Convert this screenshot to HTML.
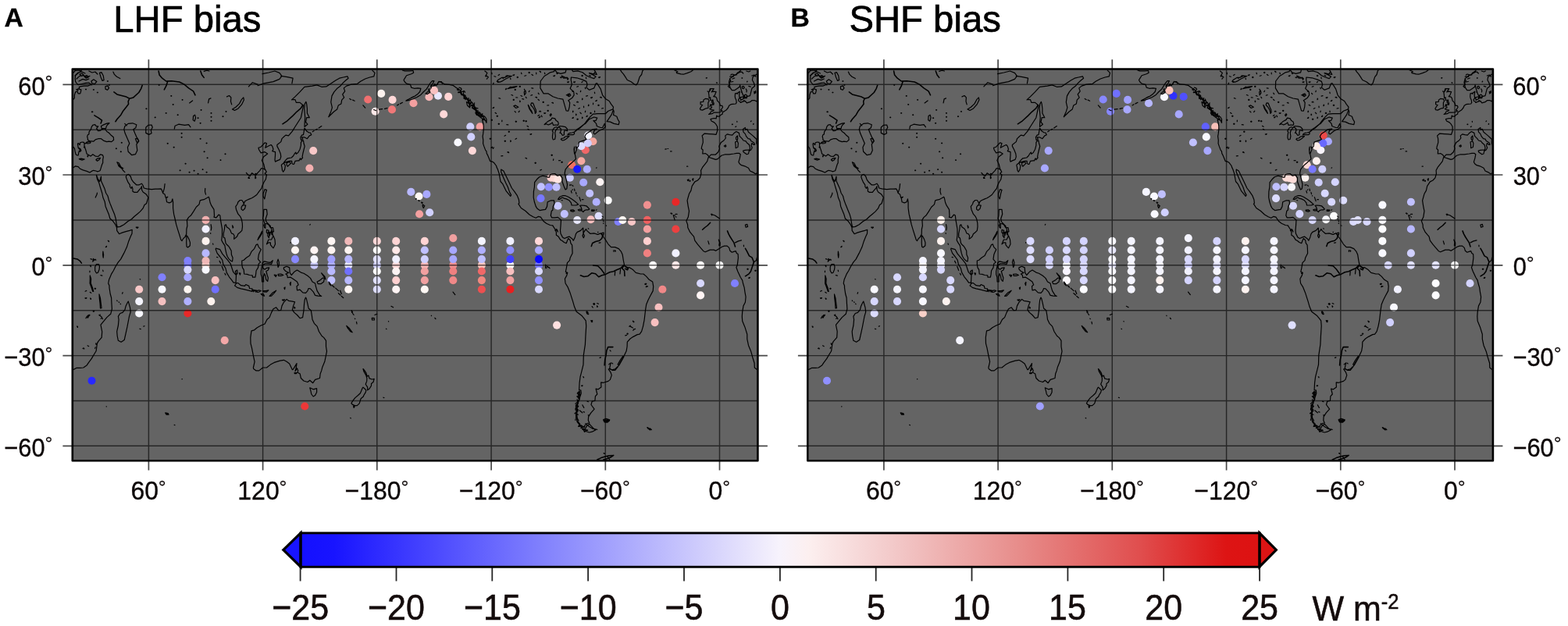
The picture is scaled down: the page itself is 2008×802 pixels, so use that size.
<!DOCTYPE html>
<html lang="en"><head><meta charset="utf-8"><title>LHF bias / SHF bias</title>
<style>
html,body{margin:0;padding:0;background:#fff}
body{width:2008px;height:802px;overflow:hidden}
svg{display:block}
text{font-family:"Liberation Sans",Arial,Helvetica,sans-serif;fill:#000}
.tk{font-size:32px;fill:#0c0606;stroke:#0c0606;stroke-width:.35px}
.dg{font-size:24.6px;fill:#0c0606;stroke:#0c0606;stroke-width:.2px}
.cl{font-size:43px;fill:#140c0c;stroke:#140c0c;stroke-width:.55px}
.ti{font-size:47.3px;stroke:#000;stroke-width:.7px}
.pl{font-size:33.7px;font-weight:bold;stroke:#000;stroke-width:.3px}
</style></head><body>
<svg width="2008" height="802" viewBox="0 0 2008 802">
<defs>
<clipPath id="mc"><rect x="92.8" y="88.5" width="877.6" height="501.7"/></clipPath>
<linearGradient id="cb" x1="0" x2="1" y1="0" y2="0">
<stop offset="0" stop-color="#1410ff"/><stop offset="0.035" stop-color="#1814ff"/><stop offset="0.25" stop-color="#8080fd"/><stop offset="0.5" stop-color="#f7f3fc"/><stop offset="0.53" stop-color="#fcefef"/><stop offset="0.625" stop-color="#f2c6c6"/><stop offset="0.75" stop-color="#e78c8a"/><stop offset="0.875" stop-color="#e04e4e"/><stop offset="0.965" stop-color="#dd1414"/><stop offset="1" stop-color="#dd1212"/>
</linearGradient>
<g id="coast" fill="none" stroke="#000" stroke-linejoin="round" stroke-linecap="round"><path d="M116 331.6L117.8 332.3M120.9 332.7L122 332.2L122.9 333.1ZM115.5 340.2L116.4 340.6L116.3 341.6ZM115 347.1L114.9 348.7M131.7 346.1L132.1 347.7M128.9 352.6L130.9 353.1M110.8 372.4L109.1 373.2M115.2 374.3L116.7 375.3M110.9 381.7L110 382.5L109 381.9ZM115.6 382L116.5 382.6L116.3 383.5ZM121.2 369.8L121.9 369.2L122.6 369.8L121.9 370.4ZM119.2 398.8L119.9 398.2L120.6 398.8L119.9 399.4ZM113 403.5L114.9 404M130.7 407.3L129.1 408.2M128.2 403L127.7 404.5M98.6 418L99.5 418.4L99.4 419.4ZM106 446.5L107.1 445.9L107.9 446.8ZM112.1 442.8L113.7 443.7M122.7 439.9L123.5 440.5L123.1 441.4ZM122.2 444.9L121.7 446.4M138.3 308.3L139.3 308.6L139.5 309.6ZM136.5 315.3L136.3 316.4L135.3 316.6ZM157.1 374.6L156.6 376.2M110 407.7L112.3 404.7L114.9 403.3M126.9 403.7L129.9 405.7L131.5 408.7M905.3 99.6L904.9 100.2L904.2 99.9ZM917.5 105.8L918.2 105.9L918.3 106.5ZM937.4 159.3L937.9 159L938.3 159.3L937.9 159.7ZM942.8 162L941.9 162.6M943.8 155.3L943.9 156.3M962.1 154.9L961.5 155.7M964.9 158.3L965.1 158.9L964.7 159.3ZM949.9 100L950.3 99.6L950.7 100L950.3 100.3ZM957 104L957.1 104.6L956.6 104.9ZM965.7 117.4L966.1 117.9L965.9 118.4ZM949.4 117.9L949.8 117.6L950.2 117.9L949.8 118.3ZM944.6 119.5L944.6 120.1L944 120.3ZM949.2 127.5L948.5 128.3M953.4 128.9L952.8 129.3L952.2 128.9ZM950.3 111.1L952 110.4L953.3 111.9L952.3 113.7L950.6 113.1ZM955.3 113.9L956.3 115.9L956 117.9M958.8 110.4L961.3 111.1M953.3 121.9L955.3 121.1L956.8 122.9L955.3 124.9L953.6 124.1ZM909.9 114.9L907.9 117.9L906.1 116.9M912.9 127.9L911.4 130.4L912.9 132.9M909.9 133.9L908.9 136.9M935.9 96L937.4 95L939.9 95.5L938.9 97M937.9 101L940.8 100M935.9 105L938.9 104.5M945.8 93L949.8 92L951.8 94M955.8 91L958.8 92L960.8 91M962.8 97L965.8 96L967.8 98M621.6 97.4L622.3 96.8L623 97.4L622.3 98ZM624.4 99.9L623.4 101.2M629.7 93.2L630 94.8M632.9 97.7L634.8 98.3M639.6 95.4L638.1 96.5M643.1 99.4L644.5 100.5M649.7 96.7L647.9 97.3M653.6 100.2L653.9 101.7M658.7 95.7L658 96.6L656.8 96.3ZM662.1 99L662.8 98.4L663.5 99L662.8 99.6ZM667.5 93.2L668 94.7M673.7 96.7L671.8 97.3M677 93L677.7 92.4L678.4 93L677.7 93.6ZM681 95.4L682.5 96.5M686.7 93.2L686.8 94.8M691 91.4L692.1 91.5L692.4 92.6ZM697.4 93.2L697.9 94.7M632.1 106.2L631.6 107.7M637.1 105L637.8 104.4L638.5 105L637.8 105.5ZM648.2 113.2L648.3 114.2L647.4 114.7ZM652.8 111.8L653.9 111.2L654.8 112.1ZM659.1 114.9L659.8 114.3L660.5 114.9L659.8 115.5ZM665.1 110.9L665.8 110.3L666.5 110.9L665.8 111.5ZM671.4 114.2L672.1 115.7M678.1 116.2L677.3 117.6M680.7 112.8L682.7 113.1M654.9 121.5L656.7 122.3M660.8 124.8L662.8 125M666.9 122.5L668.6 123.3M673.3 124.2L674.2 125.6M681.6 121.6L679.8 122.2M685.8 124.5L687 124.3L687.6 125.3ZM689.2 119.2L690.2 120.6M638.9 125.6L640.7 126.2M657.1 127.9L657.8 127.3L658.5 127.9L657.8 128.5ZM665.7 129.1L666.3 129.9L665.8 130.7ZM668.8 126.6L670.7 127.1M689 127.3L690.4 128.5M695 130.9L695.7 130.3L696.4 130.9L695.7 131.5ZM702.7 134.8L700.7 135M706.8 131.5L707.9 131.3L708.5 132.2ZM690.7 142.8L691.7 142.2L692.7 142.9ZM698.7 144.8L697.7 145.5L696.7 144.9ZM701 141.9L701.7 141.3L702.4 141.9L701.7 142.5ZM693.3 148.1L694.1 149.6M690.5 147.3L688.9 148.4M632.6 137.4L632.2 138.4L631.1 138.4ZM634.1 144.3L635.6 145.4M636.1 148.8L636.8 148.2L637.5 148.8L636.8 149.4ZM629.2 153.8L629.9 153.2L630.5 153.8L629.9 154.4ZM638.1 158.8L638.8 158.2L639.5 158.8L638.8 159.4ZM642.9 154L642.8 155.6M648.8 159.7L650.8 159.9M659.1 142.6L660.4 143.9M665.3 142.2L664.2 143.5M660.1 155.8L660.8 155.2L661.5 155.8L660.8 156.4ZM670 154.8L670.7 154.2L671.4 154.8L670.7 155.4ZM673 155.2L673.7 154.6L674.4 155.2L673.7 155.8ZM675 161.3L676.5 162.3M675.9 165.3L677.5 166.3M680.7 171.5L679.9 172.4L678.8 172ZM627.2 177.8L627.9 177.2L628.6 177.8L627.9 178.4ZM630.7 188.3L630.2 189.3L629 189.2ZM632.3 189L631.4 190.4M646.1 180.8L646.8 180.2L647.5 180.8L646.8 181.4ZM653.7 180L654.3 180.7L653.9 181.6ZM661.6 177.3L660 178.3M647.6 173.3L646 174.2M651.1 168.8L651.8 168.2L652.5 168.8L651.8 169.4ZM643.8 199.6L641.8 199.8M649.9 194.9L651.1 194.7L651.7 195.7ZM672.9 202.3L674.6 203.1M685 208.7L685.7 208.1L686.4 208.7L685.7 209.3ZM693.5 217.3L691.8 218.1M706 198.7L706.7 198.1L707.4 198.7L706.7 199.3ZM708.8 203.9L708.5 205.5M715.6 205.7L717.6 205.7M718.9 207.7L719.6 207.1L720.3 207.7L719.6 208.3ZM736.6 104.8L735.7 105.6L734.6 105.1ZM740.5 110.6L738.7 111.2M732.9 116.9L733.6 116.3L734.3 116.9L733.6 117.5ZM738 119.3L739.2 120.5M743.8 116.2L743.3 117.7M749.3 112.2L749.8 113.7M756.5 114.7L754.6 115.1M761.4 118.1L761.7 119.7M758.5 124.7L757.7 125.6L756.6 125.1ZM752.5 122.7L750.6 123.1M745.7 126.1L746.1 127L745.5 127.7ZM738.6 130.8L739.6 130.2L740.6 130.9ZM734.7 134.4L736.4 135.3M742.4 138.4L740.8 139.3M747.5 136.1L747.6 137.7M753.7 134.1L754.1 135L753.4 135.7ZM759.6 132.1L759.5 133.7M764.3 128.4L763.9 129.4L762.7 129.4ZM749.7 142.1L749.4 143.6M742.9 144.2L744.2 145.5M737.6 146L738.1 146.9L737.6 147.6ZM734.3 150.3L734 151.3L732.9 151.4ZM738.9 152.8L739.6 152.2L740.3 152.8L739.6 153.4ZM745.6 150L746.1 150.8L745.5 151.6ZM752.1 148.2L752 149.2L751 149.5ZM733.7 142.1L734.1 142.9L733.5 143.6ZM728.6 104.8L727.7 105.6L726.6 105.1ZM710.6 96.7L709.9 97.6L708.7 97.3ZM712.9 94L713.6 93.4L714.3 94L713.6 94.6ZM719.6 98.8L718.7 99.7L717.6 99.1ZM744.9 97L745.6 96.4L746.3 97L745.6 97.6ZM750.4 99.2L750.7 100.7M754.8 96.4L756.3 97.5M762 92.3L761 93.7M768.5 98.7L767.7 99.6L766.6 99.2ZM746.2 104.3L744.9 105.6M768.6 124.6L769.7 124.3L770.4 125.2ZM765.8 134.9L766.5 134.3L767.2 134.9L766.5 135.5ZM772.5 138.7L770.5 139M761.5 142.1L761.6 143.7M755.8 144.9L756.5 144.3L757.2 144.9L756.5 145.4ZM727.2 120.5L729.6 120.1L730.8 122.1L728.8 123.7L726.8 122.5ZM657.8 135.9L660.2 134.9L663.8 137.3L660.8 138.5ZM585.2 114.8L586.7 115.2L588.8 115.1M586.9 118.7L588.9 118.5M593.5 116.7L593.6 118.5L593.5 120.5M594.4 121.7L594.6 123.2L596.2 123.9M597.5 124.7L596 127.7M599.5 126.1L599.9 127.7L600.9 128.7L600.5 131.1L601.8 132.2L605 131.7M602.3 135.9L607.6 134L606.8 136.6L607.2 138.4L607.1 140.2L609.2 140.7L610.5 141.5L612.2 141.9L612 143.6M613.5 143.6L614.9 144.4L615.3 146.3M617 146.8L616 150.5M588 112.1L590 112.7L591 114.2L589 118.4L594.6 116.5L595.6 118.2M594.8 121.4L596.2 122.7L594.7 126.1M597 126.7L600.4 125.8M601.9 127L602.7 129.3M600.9 132.9L603 133.4M607.7 131.9L605.4 135.7L607.5 136L606.9 138.5L610.2 138.3L612 138.9M610.1 141.8L610.3 144.2M612.2 145.1L612.3 147.5L614.8 147L617.9 145.8L617.1 149.1L619.9 148.4M741.9 501.8L740.1 502.8L739.2 504L743.4 506M741.5 507L738.8 507.9L741.9 509.8L741.6 511.1M739 511.8L739.9 513.4L740 514.8L738.7 515.8L736.9 517.2M739.7 518.9L738.3 520.3M737.5 521.8L737.4 523.4L736.9 525L740.3 526.6M737.8 528.1L736 529.6L740.5 531.2M738.9 532.7L739 534L737.4 535.6M737 537L736.9 538.3M739.4 539.2L739.4 540.8L741 541.4M741.5 542.7L742.3 543.8L740.7 546.4L743.8 546.1M743.9 548.4L747.5 546.7M747.7 548.9L747.8 551.9L748.6 553.4L751.2 551.1L752.6 551.3M934 112.1L932.4 110.6L933.8 109L934.9 107.5L933.4 106L935.1 105L935.7 103.3L934.5 100.9M934.8 98.2L936.8 98.1L939.1 98.5M939.7 96.6L941.7 96.5M943.2 96.1L943.6 94.1L944.7 93L946 92.2L947.3 91.3M549.1 116.3L548.8 114.2L551.2 114M552.2 112.8L551.9 110M553.7 110L555.5 110.1L556.3 107.6L559 109.6M560.4 108.4L561.1 105.5L563.6 104.6L565.3 104.6L566.4 107.3M620.9 91L623.9 93.4L622.3 96.6L625.5 99M787.7 347.8L787.3 352.8M794.6 344.8L794 350.8M698.7 339.1L699.1 340.6M700.6 341.1L701.6 341.5L701.6 342.5ZM702.9 342.4L704 343.7M759.7 389.3L760.8 388.6L761.7 389.4ZM764.5 391.9L765.3 392.6L764.9 393.5ZM758.2 392.6L759.2 394M751.8 398.9L752.3 399.7L751.7 400.5ZM753.9 402.1L751.9 402.1M758.7 410.6L757.8 411.4L756.7 410.7ZM810.5 411.1L811.9 412.3M807.4 417.1L805.8 418.2M808.7 419.3L810.5 420M813.6 421.4L811.6 421.9M802.9 427.6L803.6 427L804.3 427.6L803.6 428.2ZM802.6 429.4L800.7 429.8M827.1 363.1L827 364.2L826 364.4ZM827.6 366.6L829.5 366.9M787.4 320.7L788.2 321.3L787.9 322.3ZM769.1 310.8L767.1 311.1M726.6 349.4L726.1 350.4L725 350.3ZM712.7 294.6L710.9 295.3M779.7 466.9L782.1 464.9L780.7 471.9L783.7 473.9L787.7 472.9L790.6 469.9M791.2 466.9L794 461.9L797.6 456.5L798.8 457.3L795.6 462.9L792.8 467.9ZM745.8 518.8L747.8 522.4M742.2 525.8L745.8 528.8M749.8 542.7L753.7 545.9L758.7 549.1L764.7 550.3M772.7 537.5L776.1 536.3L780.7 537.9L777.7 540.3L774.1 539.9ZM777.7 584.6L780.7 588.6M769.4 457.9L768 458.4M746.8 482.7L747.5 483L747.5 483.8ZM746.1 493.9L745.5 494.6L744.6 494.2ZM752 514.1L753.5 514.7M753.2 531.9L754 531.9L754.3 532.8ZM747.1 527.5L748.5 528.1M783.4 465.1L784.7 465.9M781.2 448.8L782.1 449.9M773.2 580.5L774 580.7L774.2 581.5ZM910.6 274.4L915.6 276L921.5 280M941.5 310.9L945.5 308.9L949.5 307.9M906.8 308.9L908 312.9M965.4 335.8L968.4 333.8L969.4 329.9M858.9 273.2L860 273L860.5 274ZM862.7 275.9L864.7 276M865.1 274.4L867.1 274.4M911.7 274.2L912.1 275.1L911.4 275.8ZM952.4 314.1L952.5 315.7M956.8 344.8L957.5 344.2L958.2 344.8L957.5 345.4ZM966.7 346.8L967.4 346.2L968.1 346.8L967.4 347.4ZM960.3 355.4L959.7 356.4L958.6 356.2ZM785.9 320.7L785.9 322.3M827.8 363.7L826.8 364.5L825.8 363.8ZM829 367L827.3 367.8M761.4 389L761.5 390L760.5 390.4ZM810.4 411.3L811.3 412.8M806.9 418.3L808.7 418.9M812.1 422L810.7 423.2M764.7 388.5L766.4 389.3M753.2 400.3L751.5 401.1M757.3 412L758 411.4L758.7 412L758 412.6ZM340.3 217.9L337.8 216.3L334.7 215.5L332.7 218.6L329.8 221.7L327.4 224.8L324.9 223.3L322.7 221.7L320 225.6L317.6 224L315.4 221.3M326.9 225.6L327.8 227.9L326.9 228.7ZM318.6 226.7L319.6 228.3L318.1 228.3ZM297.6 288.9L298.8 291.2L298.1 292ZM159.9 220.6L157.5 218.3L155.1 214.4L152.4 211.3M208.9 246.4L210.4 241.4L211.1 235.6M263.5 249.1L262.5 245.3L262.8 241.4M851.8 191.2L853.3 190.9M855 190.5L855.7 190.5M858.6 193.9L860.1 193.9M862.3 275.7L864.2 281.9M860.1 274.2L860.8 273.8M865.4 277.7L865.9 278.1M183.8 418.1L185 417.7M178.9 421.2L180.2 421.6M149.7 384.9L150.2 385.7M152.1 386.9L152.6 387.3M154.1 389.2L154.6 389.6M211.8 528.9L215.3 529.6L216 531.2L213.1 531.2L212.3 530ZM212.8 529.6L215.5 530.4M223.1 544.3L224 544.7M136.1 520.8L136.5 520.8M233 485.7L233.3 485.7M270.1 287.7L270.8 291.6L270.3 295M269.6 298.5L269.8 299.3M272.5 312L273 313.2M278.9 329.8L277.6 329.4M281.1 334.4L282.5 337.1M284.2 341.3L285.2 343.7L286.2 346.4M287.9 350.2L288.9 352.1M301.3 347.5L303.7 346L304 350.6L302.5 351.4ZM306.4 349.8L307.9 350.2L307.4 352.1ZM396.8 288.1L397.3 287.3M372 311.2L372.2 310.5M556.9 407.3L557.9 408.5M552.3 404.2L552.5 404.6M580.1 374.1L582.8 377.6M494.5 421.2L495 421.6M497.5 411.6L497.7 412M698.5 341L699.7 343.3L699 343.7ZM701 341.7L701.7 342.5M703.1 342.9L703.6 343.3M832.5 548.9L834.3 550.5M763.6 215.2L764.1 214.8M731.4 244.5L732.1 247.2M732.9 243.3L733.4 242.9M729.5 237.2L731.7 236.8M733.1 237.5L733.9 238.3M735.6 242.2L736 244.5M737.5 246.4L738 248.7M739 250.7L739.2 251M741.9 252.6L743.6 257.6M745.3 255.7L747 255.7M771.1 276.9L772.4 278.1M771.9 280.4L772.1 280.8M772.4 282.7L773.1 283.8M772.8 285.8L772.8 286.5M776.3 288.9L776.5 289.3M763.3 269.2L764.1 268.8M719.2 256.5L720.2 256.8M753.3 292.7L753.8 293.1M765.5 297.4L766 297.4M179.2 357.6L179.7 357.9M490.9 509.2L491.9 509.6M448.7 535.4L449.2 535.8M116.9 104L119.9 101.8L123.9 104.4L121.3 107.7L117.9 106.9ZM127.5 93.4L129.9 92.6L132.3 97L133.1 102.6L131.1 103.4L129.1 99ZM96 97L100 93L105 92L109 94M98 101L102 97.4L107 96.6L111.9 99L114.9 97.4M101 104L106 101.4L110 102.6L113.9 101M102 95L105 94L107 96L104.4 97.4ZM108 98L110.9 96.6L113.5 98.6L110.3 100.2ZM95.6 91L99 90L104 90.6M113.9 91L117.9 93L121.9 92L124.9 95M134.9 110.9L137.9 109.9L139.5 112.9L137.5 115.3L135.1 114.1ZM109.5 114.5L110 114.1L110.4 114.5L110 114.9ZM119.4 114.9L119.9 114.5L120.4 114.9L119.9 115.3ZM124.4 118.5L124.9 118.1L125.4 118.5L124.9 118.9ZM117.4 143.3L117.9 142.9L118.4 143.3L117.9 143.7ZM186.9 139.3L187.4 138.9L187.9 139.3L187.4 139.7ZM203.2 108.9L203.7 108.5L204.2 108.9L203.7 109.3ZM137.4 104L137.9 103.6L138.4 104L137.9 104.4ZM139.4 108.9L139.9 108.5L140.4 108.9L139.9 109.3ZM144.9 92L146.5 95.4L149.5 98.2L153.8 100.6M261.2 91.4L264.6 90.2L268 91M318.4 110.9L323.4 105.7L330 108.1M159.8 158.4L162.2 160.8M159.8 161.8L164.2 158.4L169.8 157.8L174.8 159.8L173.8 163.8L170.8 165.8L172.8 170.8L176.2 178.4L177.8 180.8L174.8 184.8L175.8 192.7L173.4 197.7L168.8 198.7L164.2 194.3L163.4 188.7L165.8 183.8L162.8 176.8L160.2 170.8L158.8 165.8ZM173.4 177.8L176.2 177.2L177.8 180.4L175.4 182.8ZM186.8 163.2L189.8 160.4L194.1 160L195.3 163.2L193.3 166.8L194.1 170.8L190.7 172.4L186.8 170.4ZM223.3 165.2L224.1 161.2L228.7 159.2L236.6 160.4L241.6 159.6L244 162.8M297.5 139.9L301.9 137.3L306.5 132.9L309.5 127.3L311.8 124.9L312.4 127.9L309.5 133.9L305.1 138.9L300.5 141.5ZM290.5 123.9L293.5 122.5L295.9 124.9L295.5 129.9L296.7 133.9M266.6 131.9L267.6 126.9L270 125.9M242.6 131.9L246.6 128.9M247.6 148.4L249.6 147.2L250.6 150.8L249.2 155.2L247.2 153.8ZM149.9 207.7L152.2 208.7L154.8 213.7L157.8 215.7L155.8 215.7L152.2 213.1ZM117.8 143.3L118.3 142.9L118.8 143.3L118.3 143.7ZM148.4 190.3L148.9 189.9L149.4 190.3L148.9 190.7ZM154.3 194.3L154.8 193.9L155.3 194.3L154.8 194.7ZM155.3 182.8L155.8 182.4L156.3 182.8L155.8 183.2ZM212.2 144.9L212.7 144.5L213.2 144.9L212.7 145.2ZM227.2 147.2L227.7 146.8L228.2 147.2L227.7 147.6ZM233.1 127.9L233.6 127.5L234.1 127.9L233.6 128.3ZM232.1 170.8L232.6 170.4L233.1 170.8L232.6 171.2ZM232.1 175.8L232.6 175.4L233.1 175.8L232.6 176.2ZM256.1 177.8L256.6 177.4L257.1 177.8L256.6 178.2ZM264.1 183.4L264.6 183L265.1 183.4L264.6 183.8ZM288 197.3L288.5 196.9L289 197.3L288.5 197.7ZM282 205.1L282.5 204.7L283 205.1L282.5 205.5ZM259.1 217.1L259.6 216.7L260.1 217.1L259.6 217.5ZM264.1 220.7L264.6 220.3L265.1 220.7L264.6 221.1ZM242.1 220.7L242.6 220.3L243.1 220.7L242.6 221.1ZM230.1 218.3L230.6 217.9L231.1 218.3L230.6 218.7ZM237.1 209.7L237.6 209.3L238.1 209.7L237.6 210.1ZM214.2 183.8L214.7 183.4L215.2 183.8L214.7 184.2ZM222.2 188.7L222.7 188.3L223.2 188.7L222.7 189.1ZM270 144.9L270.5 144.5L271 144.9L270.5 145.2ZM270 149.8L270.5 149.4L271 149.8L270.5 150.2ZM270 154.8L270.5 154.4L271 154.8L270.5 155.2ZM289 142.9L289.5 142.5L290 142.9L289.5 143.3ZM285 149.2L285.5 148.8L286 149.2L285.5 149.6ZM257.1 140.9L257.6 140.5L258.1 140.9L257.6 141.3ZM218.8 122.9L219.3 122.5L219.8 122.9L219.3 123.3ZM221.2 133.9L221.7 133.5L222.2 133.9L221.7 134.3ZM198.2 150.4L198.7 150L199.2 150.4L198.7 150.8ZM253.1 151.2L253.6 150.8L254.1 151.2L253.6 151.6ZM256.1 157.8L256.6 157.4L257.1 157.8L256.6 158.2ZM261.1 194.3L261.6 193.9L262.1 194.3L261.6 194.7ZM265.1 202.3L265.6 201.9L266.1 202.3L265.6 202.7ZM317.9 227.8L318.4 227.4L318.9 227.8L318.4 228.2ZM326.9 222.7L327.4 222.3L327.9 222.7L327.4 223.1ZM253.1 222.7L253.6 222.3L254.1 222.7L253.6 223.1ZM248.1 218.7L248.6 218.3L249.1 218.7L248.6 219.1ZM330 109.7L338 106.9L350 104.6L357.9 101.4L360.9 97.4L357.9 93.4L351.9 91M336 94.6L344 93L351.9 91M359.9 97.4L367.9 98.6L375.1 100.2L373.9 106.9M373.5 127.9L377.9 123.9L383.9 117.9L389.9 111.3L399.8 110.1L405.8 108.9L411.8 111.3L417.8 110.9L423.8 106.9L429.8 103L434.7 100.2L439.7 99L444.9 97.8L446.1 100.2L442.7 103L439.3 106.1L436.1 109.9L432.1 112.9L427.8 117.9L425 122.9L423.8 130.9L425.4 137.9L423.8 142.9L420.8 149.8L427.4 143.3L431.7 140.1L433.3 134.9L436.9 132.9L437.7 128.1L440.7 124.9L438.7 120.9L441.7 116.9L440.3 112.9L443.7 110.1L449.7 108.1L457.7 107.3L461.7 104.2L467.7 101L473.6 99L478.8 97.8L480 93.4L476.8 90.2M400.2 168.8L402.2 167.6M404.2 166.4L406.2 165.2M408.2 164L411.8 161.6M447.7 126.5L449.7 127.7M451.7 128.1L454.1 129.3M464.9 134.9L467.7 138.1M478.6 140.5L481.6 141.7M485.6 140.1L489.6 139.7M492.6 139.3L496 138.5M508.6 134.9L510.5 133.7M512.5 132.9L515.5 131.3M520.5 128.5L524.5 126.5M526.5 125.3L529.5 123.7M512.1 86.7L515.7 90.1L518.4 90.9L524.3 90.9L529.1 90.5L529.6 93.2L526.7 94.8L520.6 96.7L518.2 100.6L517 102.5L518.2 104.8L520.6 107.1L525.5 108.3L526.7 112.1L530.4 113.3L535.2 112.9L538.9 113.3L537.7 117.5L535.2 120.2L530.4 123.7L525.5 126L519.9 129.1L524.3 128.3L529.1 126.8L534 124.5L538.9 121.4L542.5 117.5L546.2 114.1L548.6 110.2L551.1 106.3L553.5 103.6L555.9 103.6L554.7 106.3L551.6 110.2L555.9 109.8L559.6 108.3L562 104.4L565.7 105.6L569.4 107.9L575.4 108.3L580.3 109.4L585.2 112.9L588.8 115.2L591.3 119.9L594.9 123.7L598.6 127.6L602.3 129.5L604 130.7L607.1 135.3L609.6 139.1L610.8 143L615.7 146.9L619.3 148.8L621.5 150L623 152.7L623 157.3L621.7 154.2L617.6 153L618.8 158.4L619.3 161.5L619.3 166.2L618.6 171.9L618.1 174.6L618.8 179.7L618.6 183.9L619.8 187.4L621.7 192.4L623 193.9L623.2 196.3L624.4 198.6L625.9 202L627.6 206.3L630.3 207.1L632.7 208.6L635.6 212.5L636.1 214.4L637.3 216.7L639.1 222.1L641 232.5L643.7 235.6L648.3 244.9L653.7 251.4L654.6 249.9L652.7 246.4L650.3 239.5L647.8 234.5L644.9 227.9L641.7 220.2L641.7 217.1L644.9 219L647.3 224L651.2 232.1L655.4 241L658.8 245.3L662.2 250.3L664.4 255.7L664.9 260.3L663.9 261.1L667.3 266.5L672.9 270.3L678 275L682.7 277.7L686.3 279.2L689.5 277.3L692.4 278.1L696.1 283.5L699.7 286.2L704.6 288.5L707.8 288.9L708.7 290.4L710.7 293.5L712.4 297.4L712.4 301.2L715.1 303.1L717.8 307.4L719.7 308.2L722.4 310.5L725.3 311.6L726.5 308.2L727.8 305.5L730.2 307.8L730.9 311.6L732.6 313.9L732.9 318.6L733.1 324.4L730.2 330.2L729.5 333.6L726.5 336.7L725.3 343.7L724.3 348.3L726.8 349.4L725.8 352.9L723.4 357.2L724.1 363L727 367.6L730 374.9L733.6 386.1L735.6 393.1L738.2 399.2L744.8 404.2L747.7 407.7L750.2 410.8L750.7 417.7L749.9 430.9L749.4 441.3L747.3 455.2L747 467.1L744.6 476.8L743.1 482.6L742.1 490.3L741.6 499.9L743.8 499.9L744.3 503.8L742.4 509.6L739.9 517.3L737.3 520L739.9 525L737.5 532.7L739.2 540.5L742.4 544.3L748.5 547.4L748.7 545.1L752.1 542.4L754.8 542L753.3 538.5L753.6 533.9L756.8 528.9L761.1 524.2L757 518.5L758.2 514.2L761.9 513.4L762.4 507.7L764.8 505L763.1 498L766 498.8L769.9 496.1L769.7 489.9L772.8 490.3L778.9 488.4L781.4 486.4L783.3 480.6L781.9 476.8L779.2 472.9L780.4 472.5L784.5 474.5L787.7 474.5L791.1 470.2L794.5 464.1L798.4 457.5L802.1 449.8L803.1 444L803.3 438.2L807 434L810.6 431.6L816.2 428.6L819.1 428.2L821.6 424.7L823.5 418.1L825.2 409.3L826.5 397.7L827.7 390L830.1 384.2L832.5 379.5L836.2 372.6L836.7 366.8L835.7 361L831.3 358.3L827.7 354.1L824 351L820.4 351L814.3 349.4L810.6 345.6L805.7 342.5L803.3 343.7L799.6 339.8L798.4 334L797.2 326.3L795.5 322.4L792.3 318.6L787.5 316.6L782.6 316.6L778.9 312.8L775.3 307L771.6 302L769.2 298.9L765.5 300.4L760.7 298.9L755.8 299.3L751.4 295.4L750.4 293.5L747.7 297.4L747 299.3L746.8 292L743.6 295.4L739.2 297.4L737.5 299.7L736.3 303.9L734.3 308.2L733.1 306.2L729 303.1L726.5 303.9L722.9 305.5L720.4 303.9L718 299.3L717.5 295.4L718 289.6L718.5 281.9L714.4 278.4L710.7 278.8L706.6 278.8L705.3 276.1L706.3 270.3L707.8 269.2L708.3 264.6L710 260.7L709.5 256.8L705.8 256.8L701.2 258.8L700.5 264.6L698.5 268.4L694.9 268.8L691.2 269.6L688 267.3L686.3 264.6L684.4 258.8L683.2 253L683.4 245.3L684.4 239.5L684.6 233.7L687.5 229.8L690.7 226.7L694.9 225.2L698.5 226L701.7 227.1L703.6 227.1L704.6 223.3L707 222.9L710.7 222.5L713.4 225.2L715.6 224.8L717.5 224L720 227.9L720 232.5L722.2 238.7L724.1 242.9L725.8 241.8L726.5 236.4L725.1 229.8L723.1 222.1L724.1 217.1L726.5 214L729 211.3L731.7 209L735.1 205.9L737.5 203.6L736.3 197.4L735.3 193.6L735.6 188.2L735.1 191.2L735.6 197L736.5 196.6L738.5 191.6L737.5 187.8L738.7 189.7L740.7 187.4L741.2 183.5L741.6 182L744.8 180.8L748.5 179.7L750.9 178.5L749 175.4L749.2 173.9L750.9 171.2L754.6 168.9L758.2 166.2L761.9 165.4L764.3 165L760.7 167.7L760.2 170.8L761.9 171.9L766.8 167.7L772.8 165L775.3 162.3L774.3 158.4L771.6 163.5L769.2 163.5L766 162.3L764.3 161.5L763.6 158.4L759.9 154.6L763.1 154.6L764.8 151.1L760.7 150L754.6 152.7L749.7 158.4L748 159.2L742.4 164.2L739.2 166.2L735.6 169.2M735.6 169.2L739.2 165.4L742.4 163.5L748.5 158.8L752.1 153.8L755.8 149.6L759.4 146.1L765.5 145.7L775.3 145.7L778.9 142.2L785 139.9L785.5 137.2L782.6 133.4L780.2 129.5L775.3 126.4L771.6 121.8L769.2 114.1L764.6 106.7L763.1 107.1L760.7 112.9L754.6 115.2L750.9 112.1L752.1 108.3L750.9 104.4L746 102.1L738.7 99.8L731.4 99L731.2 102.5L732.4 108.3L730.2 113.3L734.8 117.9L735.1 121.8L732.6 125.6L727.8 128.7L729.7 131.4L729.2 137.2L727.8 142.2L725.1 141.8L720.9 127.2L714.4 126L708 123.7L702.2 119.9L696.1 119.9L691.9 112.9L692.2 104L697.1 97.5L700.5 95.5L704.6 92.8L709.5 91.7L710.7 87.8M785.5 140.7L783.1 146.9L780.6 150.7L777.2 155.7L781.4 156.1L786.2 158.4L789.9 159.2L792.3 159.6L793.1 156.1L791.1 152.7L789.9 149.2L785.5 147.3L786.2 143ZM608.8 144.2L614.4 145.7L619.3 150.7L620.8 153L616.9 151.5L613.2 148.8L609.6 146.1ZM597.4 130.7L600.5 131.4L601.8 138L598.6 135.3ZM545 119.9L549.9 116L550.6 118.3L547.4 120.6ZM754.8 543.2L750.9 546.2L749.7 549.3L746 550.1L748.5 552L754.6 554L758.2 553.2L762.6 550.9L759.4 548.2L755.8 544.3ZM772.8 538.5L777.7 537.8L780.6 538.9L777.7 541.2L774.1 540.8ZM741.2 501.5L742.4 502.6L742.1 506.9L740.4 505.7ZM697.1 159.6L699.7 158.8L702.2 160L705.8 158.4L707.3 156.9L708.5 160.4L711.9 160L714.4 160.4L715.3 158.8L714.6 156.1L712.2 154.6L710.7 151.9L707 151.1L705.6 153.4L703.4 154.6L701 156.1L698.5 158.1ZM708.3 178.9L710.5 178.5L711.4 174.6L710.7 170L711.9 166.5L713.1 165.4L714.4 163.5L712.4 162.7L710 163.5L708 166.2L707.3 168.1L708.3 169.2L707.5 173.9L707.5 176.6ZM715.1 162.7L718 164.6L718.5 166.9L717 170.4L718.3 170.4L720.4 173.5L722.4 172.7L722.4 169.2L723.4 166.5L726.5 167.7L726.3 165L724.1 162.7L720.4 161.9L716.8 161.5ZM718.3 178.5L720.4 180L722.9 179.3L725.3 177.7L729 174.6L727 174.3L724.1 175L721.7 177L719.2 177.3ZM727 172.7L730.2 172.7L733.9 172.7L735.6 171.6L735.1 169.2L732.6 170L730.2 170.4L728 171.2ZM685.4 145.3L686.6 143.8L686.3 140.7L685.1 138.4L683.9 135.3L682.7 132.2L680.5 131.8L679.7 134.5L681.9 136.8L684.4 140.7L685.1 143ZM681.9 145.3L680.7 142.2L678.8 139.5L677.3 136.1L676.3 134.5L677.8 139.1L680.2 143ZM636.4 104.4L640 105.2L643.7 103.6L647.3 101.3L653.4 98.2L655.4 97.5L651 97.1L646.1 99.4L642.5 99.4L640 100.9L637.6 102.5ZM620.5 87.8L625.4 89.4L630.3 87.8L625.4 85.9ZM649.8 113.7L653.4 111.8L658.3 111L662 110.6L658.3 112.1L653.4 112.9ZM671.7 121.8L673.4 119.1L672.9 116L671.2 117.9ZM704.9 148.8L706.3 146.9L705.6 145.7L704.1 147.3ZM690 150.7L691.7 149.2L691 150.7ZM709.5 87.8L713.1 92.8L718 94.4L724.1 92.8L725.3 88.2M719.2 97.1L721.7 98.2L725.3 99.8L721.7 100.2ZM725.8 99L727.8 100.6L727 102.1ZM725.3 121.8L728.2 122.9L729 120.2ZM731.4 88.2L733.9 91.7L739.9 90.9L746 92.8L750.9 96.7L755.8 99L760.7 100.6L763.1 98.2L759.4 95.9L754.6 93.6L758.2 94.4L764.3 95.5L761.9 90.9L759.4 87.8M793.6 88.2L796 92.1L798.4 94.8L800.9 98.6L803.3 102.5L808.2 104.8L811.8 107.5L814.5 109L816.7 106.3L817.9 102.5L819.1 98.6L821.6 95.5L822.8 90.9L825.2 87.8M861.8 87.1L866.7 89L863.5 89.8L867.9 91.7L866.2 92.8L866.7 93.6L872 94.8L875.2 95.2L880.1 93.6L884.9 91.7L888.4 89L888.6 87.1M714.6 255.3L716.8 252.2L720.4 250.7L724.1 250.7L727.8 252.2L732.6 255.3L736.3 258L740.7 261.9L737.5 263L732.1 263L731.4 259.9L729 256.8L725.3 254.9L722.2 254.1L720.4 253L718 254.1L716.8 255.3ZM740.2 268.8L742.6 268L745.1 268.4L744.1 265.3L742.6 263.4L744.8 263L748.5 263.4L750.9 263.8L752.9 265.7L754.8 268L753.3 268.8L750.9 268.8L748.5 269.6L746.8 271.5L744.8 269.6L741.6 270ZM730.7 269.2L733.9 268.8L735.8 270.3L733.9 271.1L730.9 270.3ZM757.7 268.8L761.4 269.2L760.7 270.3L757.7 270.3ZM770.6 298.5L773.1 298.1L772.8 300.8L770.6 300.8ZM747 299.3L748.5 302L747.3 304.7L746 302ZM712.2 293.5L714.4 297L713.4 294.3ZM750.9 399.2L753.3 402.7L751.6 401.5ZM276.4 318.2L281.8 319.7L284.7 325.1L288.9 330.2L291.5 333.2L295.2 337.9L297.1 343.7L298.8 348.7L302.5 352.5L302 362.2L299.1 362.2L296.4 358.3L293.5 354.8L290.3 349.4L288.9 343.7L285.9 338.6L284.7 333.2L281.8 329L278.1 324.4L276.2 319.3ZM300.6 366L302.7 362.6L304.9 362.6L308.6 365.7L313.5 366.4L314.7 364.5L318.8 366.4L319.6 369.5L323 369.9L323 373.4L318.3 372.2L312.2 370.7L308.6 369.9L303.7 368.4L301.3 366.4ZM323.2 371.1L326.1 371.8L324.9 373.8ZM326.6 371.8L328.6 372.2L327.6 374.1ZM328.8 372.6L331.7 371.8L334.2 372.6L331.7 374.1L329.3 374.5ZM336.4 372.6L340.3 372.6L343.9 371.8L341.5 374.1L337.8 373.8ZM334.2 376.5L337.1 376.5L338.6 379.2L336.1 378.4ZM345.1 379.5L348.8 375.3L353.7 372.2L351.2 375.3L347.6 379.2ZM309.8 338.6L309.8 334L312.2 333.2L315.4 330.2L319.6 327.5L322 322.4L325.7 318.6L328.1 313.6L329.8 312.8L331.3 316.6L334.2 319.7L332.5 323.2L331.3 326.3L330.5 332.1L333.7 335.9L331.3 337.9L330.5 342.9L328.1 346.7L327.6 351.4L326.9 355.2L323.5 355.2L323.2 352.9L319.6 352.5L316.4 351.4L312.7 351L312.2 345.6L310.5 342.9ZM336.1 336.7L338.6 334.8L342.7 335.9L346.4 336.3L349.3 333.6L347.6 338.3L343.9 337.9L339.1 337.9L336.6 339.8L336.6 343.3L339.1 345.2L341.5 343.3L344.7 342.9L343.4 346L340.8 347.5L342.2 352.5L343.4 356L342.7 360.3L340.8 358.3L339.8 353.3L338.6 350.6L337.4 354.5L337.6 361L335.6 361L335.4 355.2L334.2 351.4L334.2 347.5L335.4 341.7L336.1 339ZM354.9 335.9L356.1 332.1L357.3 335.9L357.3 339.8L356.1 342.5L355.6 339ZM351.2 352.1L354.2 352.5L353.2 354.5ZM356.1 351.4L359.8 351L362.9 352.5L359.8 353.3L356.6 353.3ZM371.2 363L372.4 361.4L372 365.7ZM363.9 368.7L365.1 368L364.6 370.7ZM337.8 268.4L341.5 268.4L342.2 274.2L340.3 280L340.8 283.8L342.7 285.8L346.4 289.6L346.4 291.6L343.9 287.7L341.5 286.5L339.1 286.9L338.1 283.8L336.6 280L337.4 276.1L337.6 272.3ZM341.5 312.8L343.9 307L347.6 307L350 302L352 307L352.5 312.8L351.2 315.5L350 317.8L348.8 316.6L346.4 313.6L346.4 310.9L343.9 310.9ZM347.1 291.6L349.5 291.6L350.5 296.6L348.8 297.4ZM347.3 295.8L348.8 298.1L349.3 301.2L348.1 300.4ZM341.5 294.3L344.2 295.4L342.7 299.3L341.3 297.7ZM343.4 297.7L344.9 299.3L344.4 304.7L342.7 302ZM344.9 297.4L346.4 297.4L345.4 301.6ZM337.6 288.1L339.8 288.1L339.8 292.3L338.6 291.2ZM330 307.4L333 303.1L335.4 298.9L335.6 296.2L333.7 300.1L330.8 305.1ZM339.1 242.6L341.5 243.3L340.3 247.2L338.8 254.9L337.1 251.8L337.1 248ZM309.1 265.3L311 262.6L314.7 263L313.5 267.3L311 269.6L309.1 268ZM361 210.5L363.4 209L365.4 212.5L364.6 217.1L362.7 220.2L361.5 218.3L361 214.4L360.3 211.7ZM367.1 208.6L370.7 207.4L372.4 209.4L370.7 210.9L368.3 213.2L367.1 211.3ZM363.2 208.6L365.9 205.1L368.3 202.8L373.2 202L375.6 199.7L377.6 196.3L378.8 195.1L379.3 197.4L381.7 195.5L384.1 191.2L385.4 186.2L385.4 182.4L386.6 180.8L388.5 180L389 183.5L390.2 187.4L389 192L387.8 197L387.1 200.9L387.6 202L385.4 204.7L384.6 202.8L382.9 205.9L381.2 205.9L378 206.3L377.6 207.4L376.3 210.5L375.1 210.5L373.7 208.6L373.7 206.3L370.7 206.3L367.1 207.4L363.4 208.6ZM385.8 179.7L387.8 178.5L386.6 175.8L389.7 175.8L393.4 177.7L396.3 173.9L398.8 172.7L397.5 170L395.8 170L392.7 168.1L390 164.2L389.3 168.1L388.5 172.7L386.6 173.1L384.9 175.8L385.4 178.5ZM390.2 162.3L393.9 159.2L391.5 156.5L392.7 150.7L396.3 150.7L393.4 144.9L393.4 139.1L392.7 133.4L391.9 130.3L390.2 133.4L389.7 139.1L390.2 144.9L390.7 150.7L390.2 156.5L390 162.3ZM363.4 342.9L367.1 341.3L370.7 342.9L371.2 349.4L373.2 352.5L376.8 348.3L380.5 346L385.4 349.1L389 350.2L393.9 353.3L397.5 356.4L400 361L403.6 363L404.4 366.8L406.1 372.6L409.7 378.4L411.7 379.5L407.3 379.2L403.6 378.4L401.2 373.8L397.5 369.9L395.1 369.5L393.9 372.6L391.5 375.3L387.8 374.9L384.1 371.1L380.5 371.8L380 366.8L382.2 364.9L380.5 361L375.6 357.6L372 355.2L368.3 355.6L367.8 352.5L365.9 351L369.5 349.4L365.9 347.5L363.4 344.8ZM406.1 361L409.7 359.1L413.4 356L415.3 356.4L414.6 361L410.9 363.7L407.3 363.7ZM411.7 349.8L415.8 354.1L417 357.9L415.1 354.8ZM420.9 361L423.1 363.7L424.1 366L421.9 364.1ZM425.6 365.7L428 368M429.7 369.1L433.6 372.6M433.4 375.7L436 378M435.6 372.2L437.3 376.5M437.3 379.5L439.7 381.5M450.2 397.7L451.6 400L450.7 400.4ZM451.6 401.5L453.1 403.5M454.3 408.1L454.8 408.5M456.5 412.3L457 415M443.8 417.4L447.5 420.8L451.2 425.8L448.7 424.7L445.1 420.1ZM476.3 407.3L479.2 407.7L479.4 410L476.5 410ZM479.9 403.5L482.8 402.3M500.9 392.3L503.6 393.8M322 423.9L320.8 432.4L321 440.1L322.5 445.9L324.4 455.6L326.1 463.3L324.4 471L324.7 472.5L328.1 474.9L331.7 474.9L336.6 471L341.5 471L346.4 467.1L351.2 464.4L358.6 462.1L363.4 461.3L367.1 463.3L370.7 466L374.4 473.7L375.6 472.9L380 465.6L379.3 471L378 475.6L380.5 471.8L381.7 474.9L381 477.2L384.1 478.7L385.4 484.5L389 488L393.9 489.5L396.8 487.2L400.7 490.7L403.6 486.4L409.5 484.5L410.2 478.7L411.7 474.9L412.9 470.2L415.8 463.3L417 457.5L418.5 450.2L417.5 444L417.5 436.3L414.6 432.4L412.2 430.5L408.5 424.7L406.1 418.1L402.4 414.3L400 409.3L399.5 405L398.3 397.7L395.1 395L393.9 389.2L392.2 382.2L391.5 381.1L390.2 384.2L389.5 390L389 397.7L387.6 406.6L384.1 407.7L380.5 403.5L376.8 400.4L374.4 396.9L375.6 391.9L377.6 386.9L374.4 386.1L369.5 385.3L367.1 383.4L363.4 387.3L361 391.9L359.8 397.3L356.6 397.7L353.7 393.8L350 395.8L347.6 400.4L345.1 406.6L342 409.3L339.1 415L334.2 417L329.3 419.7L325.7 422.8ZM396.8 496.8L401.2 498.8L405.6 497.6L405.6 502.6L403.6 506.5L401.2 508L398.8 505L398 501.1ZM377.1 477.6L380 477.6L379.3 478.7L377.3 478.7ZM361.5 384.2L364.6 383.8L362.9 385.3ZM376.8 393.1L378 394.6L376.8 395ZM465 472.5L467 474.9L468.9 477.9L470.2 482.2L471.9 481L473.1 484.9L476.7 486L479.2 485.3L478 489.5L475.5 491.4L475.5 494.1L473.1 498L470.7 499.9L470.7 496.1L468.2 492.2L469.7 488.4L469.9 484.5L468.7 480.6L465.8 475.6ZM465 496.1L467 498L468.9 499.9L468.2 502.6L465.8 506.5L465.3 508L462.1 510.7L460.9 514.6L460.2 516.9L457.3 519.6L454.3 519.6L451.2 518.1L449.9 516.5L452.4 512.7L454.8 509.6L458.5 506.5L461.4 503.8L462.9 500.3L464.1 497.2ZM452.6 520.4L454.1 520.8L453.1 522.3ZM541.3 261.9L543.8 263.8L542.3 266.5L541.3 264.2ZM539.6 259.2L541.3 259.5L540.4 260.3ZM536 256.5L537.2 257.2L536.5 257.6ZM532.3 254.5L533.3 254.5L532.8 255.3ZM949.5 88.2L947.1 92.8L943.4 94.8L939.8 96.7L934.9 100.6L933.7 104.4L934.2 108.3L934.9 112.1L937.3 115.6L941 115.6L944.7 112.9L947.3 111L947.6 108.7L948.3 112.1L949.5 116L950.7 119.9L952.7 123.7L953.2 126L956.3 125.6L956.8 123.7L960.5 122.6L961.7 117.9L962.9 113.3L966.6 110.2L965.4 106.3L963.4 102.5L964.1 98.6L966.6 96.7L970 94.4M93.2 94L95.4 91.7L96.6 88.2M105.1 88.2L103.9 90.9L100.2 93.6L96.6 96.7L96.1 100.6L96.6 104.4L97.8 106.3L100.2 108.7L105.1 107.5L110 106.3L113.6 106L117.8 108.7L114.9 109L112.4 110.2L107.5 110.2L103.9 110.6L101.4 111.4L101.4 114.1L103.9 114.8L103.4 117.9L102.7 119.9L100.2 119.9L99 117.2L96.6 117.9L95.4 121.8L95.4 125.6L93.2 128M970 128L969 129.9L966.6 128.7L962.9 128.7L960.5 130.7L956.3 131.8L954.4 129.5L952 129.9L948.3 131.4L947.8 130.3L945.9 129.5L945.6 127.6L947.1 125.6L946.6 121.8L947.3 117.2L944.7 119.1L941.5 119.9L941.2 123.7L941.7 126L942.7 128L943.2 131.4L942.2 133L938.6 133.4L936.1 133.7L933.7 135.3L932.5 138L930 141.1L927.6 142.6L925.4 143.8L925.2 146.1L922 148L921.5 149.2L918.6 149.2L917.8 148L917.1 151.9L914.2 151.5L910 152.7L911 155L914.7 156.9L916.6 158.8L918.6 162.3L918.6 167.7L917.1 172.3L913 171.9L908.1 171.6L902 171.2L899.1 173.9L900.1 177.7L900.3 182.4L898.6 188.2L898.3 190.5L900.1 192L899.8 197L903.2 196.6L905.9 198.2L907.9 200.9L910.5 198.2L916.1 198.2L919.8 194.7L921.5 190.5L920.8 187.4L923.4 182.4L926.9 180L929.3 177L928.8 173.9L931.2 171.9L934.4 172.7L937.8 173.1L939.8 170.8L942.9 168.5L946.4 170.4L947.1 174.3L950.3 177.7L952 180L955.1 180.8L956.3 182.8L959.5 185.5L960.5 189.3L959.8 193.2L961.7 192L963.2 189.3L962 186.6L962.9 183.5L965.4 185.5L966.6 185.1L965.4 182.8L961.7 180.4L960.5 178.1L958.1 177.7L955.6 174.6L954.4 171.6L952 169.2L951.5 165.4L954.4 163.5L954.6 166.2L956.8 165.4L958.5 169.2L961.7 171.9L964.1 173.9L966.6 176.2L969 178.5L968.8 183.5L970.1 186.6M93 187L95.4 190.1L95.8 192L96.1 193.9L97.1 197.8L98.8 199L100.2 199L100.7 195.9L101.4 193.2L102.7 194.3L102.7 192L100.2 189.3L100 187.8L99.5 184.3L100.2 183.5L102.2 185.5L102.7 182.8L105.1 182L107.5 182.4L108 184.3L109.2 183.9L111.2 182L112.4 181.6L114.9 181.2L114.9 180.8L112.4 179.3L112.4 177.7L111.7 175L112.4 172.7L113.9 171.9L114.1 168.9L116.6 165.4L117.3 162.3L119.2 160L121.7 159.6L123.4 161.9L125.8 161.9L123.6 164.6L125.6 167.7L128.3 167.3L130.7 165.8L133.1 165L134.3 165L136.8 168.5L139.2 170L141.7 172.7L145.3 175.8L145.6 179.3L142.9 181.6L139.2 181.2L136.8 181.6L133.1 180.4L129.5 177.7L125.8 177.7L122.2 178.9L119.7 181.2L117 180.8L115.1 180.8M133.4 164.6L130.2 164.6L129.5 161.5L133.1 159.6L136.8 158.1L140 157.7L137.5 160L136.1 162.3L135.6 164.6ZM110 183.5L112.4 183.9L115.3 183.5L116.1 182.4L114.9 181.6L111.9 182ZM108 185.1L108 187.4L109.5 191.2L110.7 195.1L111 197L113.1 198.2L116.1 200.1L118.8 197.8L122.2 200.1L125.8 200.5L128.5 197.8L131.4 198.6L132.4 200.9L131.7 204.7L131.7 208.6L130.7 210.5L129.5 214.4L128.3 218.3L127.5 219L124.6 219.8L122.9 219L119.7 218.3L117.3 219.4L114.9 221L111.2 219.4L106.3 217.9L102.7 216.3L100.2 213.6L96.6 212.8L93.2 215.2L93 217.9M970.1 221L967.8 222.9L964.1 220.6L960.5 219L958.5 215.2L953.7 212.8L949.5 211.7L947.1 209.8L945.9 207.4L947.3 202.8L948.3 197.8L946.4 196.3L943.4 196.3L939.8 197L933.7 197.8L928.8 197.8L923.9 199.3L919.1 203.6L916.6 204.4L914.2 203.6L908.6 201.7L907.1 201.7L905.7 206.7L903 210.1L899.6 214.4L897.6 218.3L897.9 222.5L896.4 227.9L893.5 231L889.8 232.9L886.2 238.3L884.9 244.1L882.5 248.3L880.1 256.8L881.3 264.6L882.5 270.3L881.3 278.1L878.9 283.1L880.6 287.7L880.8 291.6L883.7 297.4L886.2 300.4L888.6 303.1L889.8 308.2L893.5 313.2L897.1 317.4L900.8 321.7L903.2 322.8L909.3 320.1L914.2 320.1L916.6 321.3L921.5 318.2L924.4 316.3L927.6 315.1L931.2 315.1L933.7 317.4L934.9 321.3L937.3 323.2L939.8 322.4L942.2 321.7L943.4 324.4L945.1 325.5L945.4 330.2L944.7 335.9L944.2 339.8L942.9 342.5L944.7 347.5L948.3 355.2L950.7 359.1L951.5 363L953.2 368.7L953.9 373.8L955.1 380.3L954.4 387.3L952 391.9L950.7 399.6L950.3 405.4L950.7 411.2L953.9 418.9L956.8 428.2L956.8 434.3L958.5 442.4L961.7 450.2L963.7 457.5L966.1 465.2L966.3 471L970.1 474.1M93 474.1L97.8 471.4L102.7 471.4L106.8 471L111.2 467.9L113.6 464.4L117.3 459.4L119.7 455.2L123.1 449.8L124.4 440.1L125.8 437.4L130.2 432.4L130.7 424.7L129.5 418.9L129 416.2L133.1 411.2L136.8 406.6L141.7 402.3L143.4 395.8L142.9 388L142.6 381.5L141.2 376.5L140 368.7L140 366L138.7 363L139.7 357.9L140.9 355.2L142.9 350.6L145.3 346.7L147.8 341.7L151.4 335.9L154.6 332.1L158.7 324.4L162.4 316.6L164.8 308.9L167.2 303.1L169 299.3L169.2 294.3L166 295.4L161.2 296.6L156.3 298.1L152.6 299.7L149.7 295.4L149.5 291.6L147.8 287.7L144.1 282.7L140.9 280L139.2 274.2L136.8 268.4L135.1 264.2L134.3 258.8L131.9 253L130.7 247.2L128.3 239.5L126.6 233.7L124.6 229.8L123.4 224.4L123.6 224.4L125.1 228.7L127.5 232.5L128.5 229.8L129.5 226L129.5 231.8L131.2 235.6L133.9 241.4L135.6 247.2L138 251L139.5 256.8L141.7 262.6L144.1 268.4L146.5 274.2L148.2 280L149 285.8L150.2 290.8L153.8 290.4L158.7 287.7L163.6 283.8L168.5 280.8L172.1 277.3L175.8 274.2L179.4 271.1L183.1 266.9L185 262.6L187.5 260.7L189.9 253L187 248.7L183.1 246L181.6 243.3L181.4 238.7L180.7 240.6L178.2 243.3L175.8 246.4L172.1 246.4L169.9 245.3L169.9 241.4L169 239.1L168 241.4L166.5 239.5L166.3 236.8L164.1 233.7L162.4 229.8L161.2 226.4L162.4 224L164.8 223.3L167.2 226L168.5 229.8L170.9 233.3L174.6 236.8L178.2 236.8L181.4 235.2L183.1 237.5L184.3 241L188 241.8L194.1 242.6L198.9 242.2L202.6 242.2L206.2 241.8L207.5 244.1L208.7 247.6L211.1 249.1L212.3 253.4L214.8 252.2L212.8 254.1L213.6 258.8L216.7 259.9L219.6 258.8L220.9 254.9L221.6 258.8L221.6 266.5L222.6 274.2L224 280L225.7 287.7L227.7 294.3L229.9 301.2L231.8 307.4L233 308.5L234.8 305.5L236.7 303.9L238.7 300.1L238.9 293.5L239.9 289.3L239.4 281.9L241.6 278.4L244.7 275.7L247.7 271.1L251.3 265.3L255 261.9L256.2 256.8L258.6 256.1L261.1 255.7L264.7 253.8L267.2 252.2L267.9 253.8L269.1 259.5L270.8 263.4L274 268.4L274.5 276.1L274 278.1L276.9 278.8L280.1 275L281.8 276.1L282.5 281.9L283.5 287.7L284.5 293.5L284.5 301.2L283.7 307.8L285.4 310.9L287.9 314.7L288.6 319L289.8 324.4L291 328.2L292.8 331.3L295.9 334.4L297.6 334.8L298.1 330.2L296.4 326.3L296.2 321.3L294 317.4L292.8 315.5L290.3 313.2L289.1 311.6L287.9 305.1L286.2 303.9L286.2 299.3L287.4 293.5L287.9 288.5L289.3 287.7L290.3 290.8L293.2 292.7L294.9 295L296.4 298.9L298.8 299.7L300.1 302L299.6 306.2L301.3 305.1L303.7 302.8L304.9 299.7L307.4 297.7L309.8 295.4L310.5 290.4L310.3 285.8L309.3 280.8L307.9 277.7L304.9 274.2L302.5 268.4L301.8 264.6L304 261.5L304.9 258.8L307.4 256.5L309.8 256.5L311.5 258.8L312.2 261.5L313.5 258L315.9 256.5L319.6 254.9L322.5 253.8L325.7 251.8L328.8 249.5L331.7 245.3L334.9 241.4L336.1 237.5L337.8 233.7L340.3 229.8L341 226L341.5 224L339.1 222.1L341.3 220.2L339.1 216.3L337.8 210.5L335.4 205.5L337.4 200.9L342.7 197L339.1 194.7L334.2 195.9L331.7 192L331 189.3L334.2 188.2L339.1 182.8L341.5 183.5L339.8 189.3L343.9 187L347.1 185.5L348.8 187.4L350 191.2L348.8 193.6L352.5 194.7L352.5 199L352 204.7L352.5 207.1L354.9 205.9L358.6 204.4L359.8 200.9L359.3 197L357.3 192L354.9 187.4L354.9 185.5L359.8 181.6L361 177.7L362.9 175.8L365.9 173.1L369.5 173.9L374.4 168.1L378 162.3L381.7 156.5L385.4 150.7L386.6 144.9L387.8 139.1L388.5 135.3L384.1 131.4L379.3 131.4L378 127.6L374.4 127.6M907.6 146.5L911.8 145.7L914.2 144.2L917.8 144.2L921.5 143.8L924.9 142.2L923.9 141.1L922.7 141.1L923.9 139.9L925.6 137.2L924.7 135.3L922.2 135.3L922 133.4L921 131.4L918.6 129.1L917.8 125.6L916.6 124.1L913.7 123.7L915.4 121.8L916.6 118.7L917.1 117.5L913 117.2L911.3 117.9L914.2 113.7L909.3 113.7L908.6 116L907.4 118.7L907.9 121.8L908.1 125.6L909.8 124.9L909.6 128.3L913 128L913.2 130.3L914.2 132.2L913.9 134.1L910.5 134.1L911 136.1L911.5 138L908.8 139.5L911 140.7L914.2 141.1L913 142.2L910.5 143L909.3 145.3ZM906.9 138.4L906.9 134.1L906.9 131.4L908.1 129.5L906.9 126.8L903.2 126.4L900.8 128.3L900.8 130.3L897.1 130.7L897.1 133.7L899.6 134.5L897.6 137.2L896.4 139.1L897.1 140.7L899.6 141.1L902 139.9L904.4 138.8ZM951.7 193.2L954.4 192.4L959.5 192L958.5 197L956.3 197.8L952 194.7ZM941.5 182L944.2 180.8L945.4 183.5L944.9 188.5L942.2 189.7L942 185.5ZM942.5 176.2L944.4 173.9L944.7 177.7L943.9 180L942.7 178.5ZM101.4 203.6L103.9 203.2L108.3 204L105.1 205.1L101.7 204ZM122.9 204.7L124.6 203.2L128.5 202.4L127 204.7L124.6 206.3ZM927.3 187L929.3 185.8L929.8 187.4L928.8 188.2ZM101.4 189.7L103.2 190.9L103.9 193.2L102.2 191.6ZM107.5 188.5L108.8 188.2L108.3 189.3ZM111.9 199.7L112.9 199.3L112.4 200.9ZM948.1 124.9L952 123.7L952 126.4L949.5 128L948.3 126.8ZM965.9 119.9L967.6 116.4L967.8 118.7ZM97.8 114.8L100.2 113.7L99.7 116ZM164.3 386.1L166.5 393.8L167.2 399.6L165.5 405.4L164.6 410L162.9 418.9L161.2 426.6L159.2 435.5L155.1 438.2L151.4 436.3L150.2 430.5L149.7 424.7L151.4 417L152.1 409.3L151.4 405.4L153.8 401.5L157 400.4L159.9 396.9L161.2 391.9L163.1 388ZM238.7 302L239.6 302L242.1 306.6L243.5 310.9L243.3 314.7L240.6 317L239.1 315.9L238.7 310.9L238.9 305.5ZM174.3 291.2L177 291.2L175.8 292.3ZM880.3 230.6L882 229.8L881.3 231.8ZM883 231.4L884 231.4L883.5 232.5ZM886.7 229.4L887.9 228.7L887.4 231.4ZM879.6 213.2L880.8 213.2M121.7 341.7L123.4 338.6L126.6 338.6L127.5 341.7L127 345.6L125.3 349.4L123.4 349.8L121.7 346.7ZM115.3 352.9L116.6 357.2L116.3 363L118.5 368.7L119.7 373.4L118.8 373.4L117 368L115.1 363L115.3 357.2ZM127 376.8L128.5 382.2L129.2 388L130 394.6L128.5 395L128 388L127.3 382.2ZM131.9 322L132.6 326.3L132.2 330.2L131.7 326.3ZM119.5 331.3L120.7 333.2L118.8 335.2ZM954.4 288.1L956.8 287.3L957.6 290.4L955.1 291.2ZM111.2 405.4L114.4 403.9L112.4 407.3ZM122.2 253L124.1 249.1L124.4 247.2M920.8 314.3L921.5 310.9L920.3 307L922.2 310.9L922 315.1" stroke-width="1.2"/><path d="M94 330.9L99 331.9L102.4 334.3L104.4 337.1M586.6 113.5L587 115.5M587 118L589.4 118.1L590.3 119.8L591.3 121.6L593.8 122.1L594.3 124.1L594.3 126.3L597.1 126.6M598.5 127.9L600 129L599.4 132L602.3 131.7L601.5 134.6M604 134.7L605.8 135.3L604.7 138.2L606.1 139L608.9 139.9L609.4 142.4L611 143.6L610.5 147.2L613.6 147.2L615.4 148.7M742.6 501.9L742.4 503.4M742.8 505.1L742.1 506.6M741.5 508L740.4 509.4L742.2 511.5M741.4 512.9L739.6 514.1M740.1 515.9L739.8 517.3L738 518.8L740.5 520.5L739.3 522M737.3 523.4L740 525L738.3 526.6L738.2 528.1L738.5 529.6M739 531.2L737.7 532.9M738.7 534.3L739.2 535.8L739.9 537.3L740.8 538.7M740.1 540.3L741.1 541.7M742.5 542.9L741.8 545.3L744.5 545.2L744.6 547.5M745.6 548.9L746.6 550.2M748.4 550.6L750.3 550.9L752.1 551.3M743.4 352.8L747.8 354.4L752.7 353.8L757.7 349.8L762.7 350.8L766.7 354.8L770.7 352.8L775.7 351.4L780.7 348.8L785.7 347.8L789.7 345.8L794.6 343.8L798.6 339.9L801.6 341.8M759.7 339.9L765.7 340.8L769.7 344.8L773.7 350.2M799.2 339.9L796.6 343.8L799.6 346.8L800 353.4M801.6 341.8L804.6 343.4L803.6 345.8L800.6 344.2M757.3 315.5L758.7 311.5L762.7 309.5L767.7 308.3L770.7 305.5L772.1 300.9M784.9 444.6L778.7 444.6L776.9 449L776.1 455L774.7 460.9L774.1 467.9M773.7 538.3L779.7 538.7M774.7 539.1L778.7 539.3M829 547.7L833.1 550.3M829.6 548.7L832.5 550.7M764.7 589L769.7 586.6L774.7 585L779.7 583.8L785.7 583.4L782.1 585.8L777.7 587.4L772.7 589M899.6 294.3L902.6 291.5L906 289L909.6 285.2M931.5 295.9L933.1 299.9L935.1 303.5L937.9 307.9L939.9 310.9L941.5 315.9M954.5 318.3L956.5 321.9L959.5 327.9L963 329.9L965.4 335.8L963.4 341.8L961.4 347.8L959.1 350.8L954.5 353.8M203.1 91L204.1 96L207.7 100.2L212.7 104L219.7 103.8L229.7 105L235.6 107.9L241.6 112.9L247.6 116.9L250 121.9M214.7 104.2L212.9 109.9L210.3 114.9M256.8 91L258.6 96L261.2 99.4M145.9 117.9L149.9 120.9L155.8 122.5L161.8 124.1L165.8 126.3L170.8 124.9M165.8 126.3L164.2 129.9L164.6 133.3L161.8 136.9L157.8 141.9L154.8 147.2L149.9 152.8L147.9 155.8M170.8 124.9L177.8 118.5L180.8 113.3L182.2 109.3M120.9 147.8L125.9 150.8L130.5 154.2L129.1 158M361.9 158.8L367.9 154.8L374.9 148.4L379.9 143.3L385.1 138.9L387.9 134.5" stroke-width="1.55"/></g>
</defs>
<rect width="2008" height="802" fill="#fff"/>
<text x="5.4" y="34" class="pl">A</text>
<text class="ti" transform="translate(145.3 41.1) scale(1 1.015)">LHF bias</text>
<text x="1012.6" y="34" class="pl">B</text>
<text class="ti" transform="translate(1087.4 41.1) scale(1 1.015)">SHF bias</text>
<g transform="translate(0 0)"><rect x="92.8" y="88.5" width="877.6" height="501.7" fill="#646464"/><g clip-path="url(#mc)"><circle cx="402.4" cy="339.8" r="5.05" fill="#c8c8ff"/><circle cx="424.4" cy="339.8" r="5.05" fill="#b0b0ff"/><circle cx="446.3" cy="339.8" r="5.05" fill="#e8e8ff"/><circle cx="482.8" cy="339.8" r="5.05" fill="#d0d0ff"/><circle cx="507.2" cy="339.8" r="5.05" fill="#ffd8d8"/><circle cx="543.8" cy="339.8" r="5.05" fill="#f8b8b8"/><circle cx="580.3" cy="339.8" r="5.05" fill="#f09090"/><circle cx="616.9" cy="339.8" r="5.05" fill="#ffc8c0"/><circle cx="653.4" cy="339.8" r="5.05" fill="#ffffff"/><circle cx="690" cy="339.8" r="5.05" fill="#7878ff"/><circle cx="240.4" cy="339.8" r="5.05" fill="#7878ff"/><circle cx="263.5" cy="339.8" r="5.05" fill="#ffd8d0"/><circle cx="836.2" cy="339.8" r="5.05" fill="#fffcfc"/><circle cx="865.4" cy="339.8" r="5.05" fill="#ffe8e8"/><circle cx="897.1" cy="339.8" r="5.05" fill="#fffcfc"/><circle cx="921.5" cy="339.8" r="5.05" fill="#ffffff"/><circle cx="378" cy="308.9" r="5.05" fill="#f0f0ff"/><circle cx="378" cy="320.5" r="5.05" fill="#fdf4f1"/><circle cx="378" cy="332.1" r="5.05" fill="#8888ff"/><circle cx="402.4" cy="320.5" r="5.05" fill="#fdf3f3"/><circle cx="402.4" cy="332.1" r="5.05" fill="#f4f4ff"/><circle cx="424.4" cy="308.9" r="5.05" fill="#fef6f3"/><circle cx="424.4" cy="320.5" r="5.05" fill="#fdf4f1"/><circle cx="424.4" cy="332.1" r="5.05" fill="#a0a0ff"/><circle cx="424.4" cy="347.5" r="5.05" fill="#b8b8ff"/><circle cx="424.4" cy="359.1" r="5.05" fill="#c0c0ff"/><circle cx="446.3" cy="308.9" r="5.05" fill="#f0b8b8"/><circle cx="446.3" cy="320.5" r="5.05" fill="#fdf4f1"/><circle cx="446.3" cy="332.1" r="5.05" fill="#b8b8ff"/><circle cx="446.3" cy="347.5" r="5.05" fill="#7070ff"/><circle cx="446.3" cy="359.1" r="5.05" fill="#b8b8ff"/><circle cx="446.3" cy="370.7" r="5.05" fill="#fef6f3"/><circle cx="482.8" cy="308.9" r="5.05" fill="#ffd8d8"/><circle cx="482.8" cy="320.5" r="5.05" fill="#ffffff"/><circle cx="482.8" cy="332.1" r="5.05" fill="#e0e0ff"/><circle cx="482.8" cy="347.5" r="5.05" fill="#ffffff"/><circle cx="482.8" cy="359.1" r="5.05" fill="#e0e0ff"/><circle cx="482.8" cy="370.7" r="5.05" fill="#dcdcff"/><circle cx="507.2" cy="308.9" r="5.05" fill="#ffd4d4"/><circle cx="507.2" cy="320.5" r="5.05" fill="#ffe8e8"/><circle cx="507.2" cy="332.1" r="5.05" fill="#f0f0ff"/><circle cx="507.2" cy="347.5" r="5.05" fill="#fdf3f3"/><circle cx="507.2" cy="359.1" r="5.05" fill="#ffd0d0"/><circle cx="507.2" cy="370.7" r="5.05" fill="#fff4f4"/><circle cx="543.8" cy="308.9" r="5.05" fill="#ffd4d4"/><circle cx="543.8" cy="320.5" r="5.05" fill="#c0c0ff"/><circle cx="543.8" cy="332.1" r="5.05" fill="#d0d0ff"/><circle cx="543.8" cy="347.5" r="5.05" fill="#f0a0a0"/><circle cx="543.8" cy="359.1" r="5.05" fill="#f0a0a0"/><circle cx="543.8" cy="370.7" r="5.05" fill="#fff8f4"/><circle cx="580.3" cy="305.1" r="5.05" fill="#f0a0a0"/><circle cx="580.3" cy="320.5" r="5.05" fill="#a8a8ff"/><circle cx="580.3" cy="332.1" r="5.05" fill="#a8a8ff"/><circle cx="580.3" cy="347.5" r="5.05" fill="#f08080"/><circle cx="580.3" cy="359.1" r="5.05" fill="#f08888"/><circle cx="616.9" cy="308.9" r="5.05" fill="#f4f4ff"/><circle cx="616.9" cy="320.5" r="5.05" fill="#b0b0ff"/><circle cx="616.9" cy="332.1" r="5.05" fill="#c0c0ff"/><circle cx="616.9" cy="347.5" r="5.05" fill="#f06868"/><circle cx="616.9" cy="359.1" r="5.05" fill="#f08880"/><circle cx="616.9" cy="370.7" r="5.05" fill="#ec5050"/><circle cx="653.4" cy="308.9" r="5.05" fill="#f0f0ff"/><circle cx="653.4" cy="320.5" r="5.05" fill="#9090ff"/><circle cx="653.4" cy="332.1" r="5.05" fill="#4040ff"/><circle cx="653.4" cy="347.5" r="5.05" fill="#f8c0c0"/><circle cx="653.4" cy="359.1" r="5.05" fill="#f0a0a0"/><circle cx="653.4" cy="370.7" r="5.05" fill="#e82020"/><circle cx="690" cy="308.9" r="5.05" fill="#ffd8d8"/><circle cx="690" cy="320.5" r="5.05" fill="#a8a8ff"/><circle cx="690" cy="332.1" r="5.05" fill="#0808ff"/><circle cx="690" cy="347.5" r="5.05" fill="#d8d8ff"/><circle cx="690" cy="359.1" r="5.05" fill="#9090ff"/><circle cx="690" cy="370.7" r="5.05" fill="#d8d8ff"/><circle cx="713.1" cy="416.6" r="5.05" fill="#ffe0e0"/><circle cx="178.2" cy="370.7" r="5.05" fill="#f8c8c8"/><circle cx="178.2" cy="386.1" r="5.05" fill="#f4f4ff"/><circle cx="178.2" cy="401.5" r="5.05" fill="#f8f8ff"/><circle cx="207.5" cy="355.2" r="5.05" fill="#8080ff"/><circle cx="207.5" cy="370.7" r="5.05" fill="#f8f8ff"/><circle cx="207.5" cy="386.1" r="5.05" fill="#f4c0c0"/><circle cx="240.4" cy="401.5" r="5.05" fill="#e82828"/><circle cx="240.4" cy="386.1" r="5.05" fill="#b0b0ff"/><circle cx="240.4" cy="370.7" r="5.05" fill="#fdf5ef"/><circle cx="240.4" cy="355.2" r="5.05" fill="#a8a8ff"/><circle cx="240.4" cy="334" r="5.05" fill="#8080ff"/><circle cx="240.4" cy="345.6" r="5.05" fill="#d8d8ff"/><circle cx="263.5" cy="281.9" r="5.05" fill="#f0b0b0"/><circle cx="263.5" cy="293.5" r="5.05" fill="#f0f0ff"/><circle cx="263.5" cy="308.9" r="5.05" fill="#fdf2ee"/><circle cx="263.5" cy="324.4" r="5.05" fill="#b8b8ff"/><circle cx="263.5" cy="334" r="5.05" fill="#f0b8b8"/><circle cx="263.5" cy="345.6" r="5.05" fill="#f8f8ff"/><circle cx="270.3" cy="386.1" r="5.05" fill="#fdf2ee"/><circle cx="275.7" cy="359.1" r="5.05" fill="#f8c0c0"/><circle cx="275.7" cy="370.7" r="5.05" fill="#7070ff"/><circle cx="828.9" cy="262.6" r="5.05" fill="#f09090"/><circle cx="828.9" cy="281.9" r="5.05" fill="#f06060"/><circle cx="828.9" cy="293.5" r="5.05" fill="#f4a0a0"/><circle cx="828.9" cy="308.9" r="5.05" fill="#ffd0d0"/><circle cx="828.9" cy="324.4" r="5.05" fill="#f08080"/><circle cx="865.4" cy="258.8" r="5.05" fill="#e82828"/><circle cx="865.4" cy="293.5" r="5.05" fill="#ec4040"/><circle cx="865.4" cy="324.4" r="5.05" fill="#f0f0ff"/><circle cx="897.1" cy="363" r="5.05" fill="#d8d8ff"/><circle cx="897.1" cy="378.4" r="5.05" fill="#fff4f4"/><circle cx="941" cy="363" r="5.05" fill="#8080ff"/><circle cx="848.4" cy="370.7" r="5.05" fill="#f08888"/><circle cx="843.5" cy="393.8" r="5.05" fill="#f8c0c0"/><circle cx="838.6" cy="413.1" r="5.05" fill="#f8c0c0"/><circle cx="117.5" cy="487.8" r="5.05" fill="#2828ff"/><circle cx="287.7" cy="436.1" r="5.05" fill="#f4a8a8"/><circle cx="390.3" cy="520.5" r="5.05" fill="#ec3838"/><circle cx="401.2" cy="193.1" r="5.05" fill="#f8c8c8"/><circle cx="396.4" cy="215.5" r="5.05" fill="#f4b0b0"/><circle cx="471.2" cy="127.5" r="5.05" fill="#f07070"/><circle cx="488.2" cy="119.9" r="5.05" fill="#fdf2ee"/><circle cx="502.6" cy="127.9" r="5.05" fill="#ffd8d8"/><circle cx="480.6" cy="142.8" r="5.05" fill="#ffe8e8"/><circle cx="502" cy="140.4" r="5.05" fill="#f07878"/><circle cx="529.5" cy="132.3" r="5.05" fill="#f4a0a0"/><circle cx="549.5" cy="124.3" r="5.05" fill="#f8b8b8"/><circle cx="561" cy="122.7" r="5.05" fill="#e8e8ff"/><circle cx="556" cy="115.9" r="5.05" fill="#f8c0c0"/><circle cx="574.2" cy="123.9" r="5.05" fill="#ffd4d4"/><circle cx="568.2" cy="146.4" r="5.05" fill="#ffd8d8"/><circle cx="602.3" cy="162.4" r="5.05" fill="#d0d0ff"/><circle cx="614.7" cy="162.4" r="5.05" fill="#f4a0a0"/><circle cx="603.3" cy="175.4" r="5.05" fill="#d0d0ff"/><circle cx="586.4" cy="182.5" r="5.05" fill="#f8f8ff"/><circle cx="604.9" cy="193.1" r="5.05" fill="#ffd8d8"/><circle cx="526.3" cy="245.9" r="5.05" fill="#b8b8ff"/><circle cx="546.4" cy="248.9" r="5.05" fill="#a8a8ff"/><circle cx="536.5" cy="251.5" r="5.05" fill="#fff8f4"/><circle cx="537.1" cy="274.2" r="5.05" fill="#f4a0a0"/><circle cx="550.2" cy="272.2" r="5.05" fill="#d0d0ff"/><circle cx="749.8" cy="192.3" r="5.05" fill="#f06868"/><circle cx="759.4" cy="181.3" r="5.05" fill="#f4a8a0"/><circle cx="752.8" cy="183.5" r="5.05" fill="#d0d0ff"/><circle cx="744.4" cy="187.3" r="5.05" fill="#dcdcff"/><circle cx="753.2" cy="173.5" r="5.05" fill="#f4f4ff"/><circle cx="744.4" cy="206.2" r="5.05" fill="#f4a8a0"/><circle cx="732.2" cy="211.2" r="5.05" fill="#f07060"/><circle cx="739.2" cy="216.8" r="5.05" fill="#1818ff"/><circle cx="751.8" cy="216.8" r="5.05" fill="#b0b0ff"/><circle cx="705.5" cy="227.6" r="5.05" fill="#ffd0d0"/><circle cx="709.5" cy="228.2" r="5.05" fill="#ffd8d4"/><circle cx="714.3" cy="229.8" r="5.05" fill="#ffe4e0"/><circle cx="729.8" cy="227.8" r="5.05" fill="#c8c8ff"/><circle cx="747.2" cy="233.8" r="5.05" fill="#a8a8ff"/><circle cx="768.3" cy="233.2" r="5.05" fill="#fdf3f3"/><circle cx="692.9" cy="239.2" r="5.05" fill="#c0c0ff"/><circle cx="702.9" cy="239.8" r="5.05" fill="#9090ff"/><circle cx="712.5" cy="239.8" r="5.05" fill="#c0c0ff"/><circle cx="755.2" cy="247.7" r="5.05" fill="#c0c0ff"/><circle cx="692.5" cy="254.1" r="5.05" fill="#7878ff"/><circle cx="763.7" cy="258.7" r="5.05" fill="#b0b0ff"/><circle cx="778.7" cy="256.7" r="5.05" fill="#fcfcfc"/><circle cx="714.5" cy="263.7" r="5.05" fill="#c8c8ff"/><circle cx="722.8" cy="274.1" r="5.05" fill="#c0c0ff"/><circle cx="739.2" cy="282" r="5.05" fill="#e8e8ff"/><circle cx="756.6" cy="281.2" r="5.05" fill="#f8c0c0"/><circle cx="766.6" cy="276.8" r="5.05" fill="#dedeff"/><circle cx="791.7" cy="284" r="5.05" fill="#8080ff"/><circle cx="797.3" cy="282" r="5.05" fill="#fff8f4"/><circle cx="809" cy="284" r="5.05" fill="#f8c8c8"/><use href="#coast"/></g><path d="M190.4 88.5V590.2M336.6 88.5V590.2M482.8 88.5V590.2M629.1 88.5V590.2M775.3 88.5V590.2M921.5 88.5V590.2M92.8 108.3H970.5M92.8 224H970.5M92.8 339.8H970.5M92.8 455.6H970.5M92.8 571.3H970.5M92.8 166.2H970.5M92.8 281.9H970.5M92.8 397.7H970.5M92.8 513.4H970.5" stroke="#000" stroke-opacity=".62" stroke-width="1.45" fill="none"/><path d="M190.4 76.3V88.5M190.4 590.2V602.6M336.6 76.3V88.5M336.6 590.2V602.6M482.8 76.3V88.5M482.8 590.2V602.6M629.1 76.3V88.5M629.1 590.2V602.6M775.3 76.3V88.5M775.3 590.2V602.6M921.5 76.3V88.5M921.5 590.2V602.6M80.4 108.3H92.8M970.5 108.3H982.9M80.4 224H92.8M970.5 224H982.9M80.4 339.8H92.8M970.5 339.8H982.9M80.4 455.6H92.8M970.5 455.6H982.9M80.4 571.3H92.8M970.5 571.3H982.9" stroke="#484848" stroke-width="1.7" fill="none"/><rect x="92.8" y="88.5" width="877.6" height="501.7" fill="none" stroke="#000" stroke-width="2.6" stroke-linejoin="round"/><text class="tk" transform="translate(167.4 640.3) scale(1.0 1.045)">60</text><text class="dg" x="202.8" y="632">°</text><text class="tk" transform="translate(304.3 640.3) scale(1.0 1.045)">120</text><text class="dg" x="357.6" y="632">°</text><text class="tk" transform="translate(441.6 640.3) scale(1.0 1.045)">−180</text><text class="dg" x="513.6" y="632">°</text><text class="tk" transform="translate(587.8 640.3) scale(1.0 1.045)">−120</text><text class="dg" x="659.8" y="632">°</text><text class="tk" transform="translate(742.9 640.3) scale(1.0 1.045)">−60</text><text class="dg" x="797.1" y="632">°</text><text class="tk" transform="translate(907.6 640.3) scale(1.0 1.045)">0</text><text class="dg" x="925.2" y="632">°</text><text class="tk" transform="translate(23.3 121.6) scale(0.965 1.045)">60</text><text class="dg" x="57.5" y="113.3">°</text><text class="tk" transform="translate(23.3 237.3) scale(0.965 1.045)">30</text><text class="dg" x="57.5" y="229">°</text><text class="tk" transform="translate(40.4 353.1) scale(0.965 1.045)">0</text><text class="dg" x="57.5" y="344.8">°</text><text class="tk" transform="translate(5.2 468.9) scale(0.965 1.045)">−30</text><text class="dg" x="57.5" y="460.6">°</text><text class="tk" transform="translate(5.2 584.6) scale(0.965 1.045)">−60</text><text class="dg" x="57.5" y="576.3">°</text></g>
<g transform="translate(941.5 0)"><rect x="92.8" y="88.5" width="877.6" height="501.7" fill="#646464"/><g clip-path="url(#mc)"><circle cx="402.4" cy="339.8" r="5.05" fill="#d8d8ff"/><circle cx="424.4" cy="339.8" r="5.05" fill="#f8f8ff"/><circle cx="446.3" cy="339.8" r="5.05" fill="#d8d8ff"/><circle cx="482.8" cy="339.8" r="5.05" fill="#e8e8ff"/><circle cx="507.2" cy="339.8" r="5.05" fill="#f4f4ff"/><circle cx="543.8" cy="339.8" r="5.05" fill="#f4f4ff"/><circle cx="580.3" cy="339.8" r="5.05" fill="#d0d0ff"/><circle cx="616.9" cy="339.8" r="5.05" fill="#e0e0ff"/><circle cx="653.4" cy="339.8" r="5.05" fill="#e0e0ff"/><circle cx="690" cy="339.8" r="5.05" fill="#e8e8ff"/><circle cx="240.4" cy="339.8" r="5.05" fill="#fff8f4"/><circle cx="263.5" cy="339.8" r="5.05" fill="#f0f0ff"/><circle cx="836.2" cy="339.8" r="5.05" fill="#d8d8ff"/><circle cx="865.4" cy="339.8" r="5.05" fill="#e0e0ff"/><circle cx="897.1" cy="339.8" r="5.05" fill="#e4e4ff"/><circle cx="921.5" cy="339.8" r="5.05" fill="#ffffff"/><circle cx="378" cy="308.9" r="5.05" fill="#d8d8ff"/><circle cx="378" cy="320.5" r="5.05" fill="#dcdcff"/><circle cx="378" cy="332.1" r="5.05" fill="#dcdcff"/><circle cx="402.4" cy="320.5" r="5.05" fill="#d0d0ff"/><circle cx="402.4" cy="332.1" r="5.05" fill="#d0d0ff"/><circle cx="424.4" cy="308.9" r="5.05" fill="#d4d4ff"/><circle cx="424.4" cy="320.5" r="5.05" fill="#d8d8ff"/><circle cx="424.4" cy="332.1" r="5.05" fill="#d8d8ff"/><circle cx="424.4" cy="347.5" r="5.05" fill="#f8f4ff"/><circle cx="424.4" cy="359.1" r="5.05" fill="#fcf8fc"/><circle cx="446.3" cy="308.9" r="5.05" fill="#d4d4ff"/><circle cx="446.3" cy="320.5" r="5.05" fill="#d4d4ff"/><circle cx="446.3" cy="332.1" r="5.05" fill="#d4d4ff"/><circle cx="446.3" cy="347.5" r="5.05" fill="#d8d8ff"/><circle cx="446.3" cy="359.1" r="5.05" fill="#d8d8ff"/><circle cx="446.3" cy="370.7" r="5.05" fill="#fcfcff"/><circle cx="482.8" cy="308.9" r="5.05" fill="#f8f8ff"/><circle cx="482.8" cy="320.5" r="5.05" fill="#e8e8ff"/><circle cx="482.8" cy="332.1" r="5.05" fill="#f8f8ff"/><circle cx="482.8" cy="347.5" r="5.05" fill="#f8f8ff"/><circle cx="482.8" cy="359.1" r="5.05" fill="#fcfcff"/><circle cx="482.8" cy="370.7" r="5.05" fill="#fcfcff"/><circle cx="507.2" cy="308.9" r="5.05" fill="#f4f4ff"/><circle cx="507.2" cy="320.5" r="5.05" fill="#f4f4ff"/><circle cx="507.2" cy="332.1" r="5.05" fill="#f4f4ff"/><circle cx="507.2" cy="347.5" r="5.05" fill="#f4f4ff"/><circle cx="507.2" cy="359.1" r="5.05" fill="#f4f4ff"/><circle cx="507.2" cy="370.7" r="5.05" fill="#f4f4ff"/><circle cx="543.8" cy="308.9" r="5.05" fill="#f4f4ff"/><circle cx="543.8" cy="320.5" r="5.05" fill="#f4f4ff"/><circle cx="543.8" cy="332.1" r="5.05" fill="#f4f4ff"/><circle cx="543.8" cy="347.5" r="5.05" fill="#f4f4ff"/><circle cx="543.8" cy="359.1" r="5.05" fill="#fdf2ef"/><circle cx="543.8" cy="370.7" r="5.05" fill="#f4f4ff"/><circle cx="580.3" cy="305.1" r="5.05" fill="#f4f4ff"/><circle cx="580.3" cy="320.5" r="5.05" fill="#f0f0ff"/><circle cx="580.3" cy="332.1" r="5.05" fill="#d8d8ff"/><circle cx="580.3" cy="347.5" r="5.05" fill="#f0f0ff"/><circle cx="580.3" cy="359.1" r="5.05" fill="#d4d4ff"/><circle cx="616.9" cy="308.9" r="5.05" fill="#d4d4ff"/><circle cx="616.9" cy="320.5" r="5.05" fill="#f4f4ff"/><circle cx="616.9" cy="332.1" r="5.05" fill="#f0f0ff"/><circle cx="616.9" cy="347.5" r="5.05" fill="#f4f4ff"/><circle cx="616.9" cy="359.1" r="5.05" fill="#d4d4ff"/><circle cx="616.9" cy="370.7" r="5.05" fill="#f4f4ff"/><circle cx="653.4" cy="308.9" r="5.05" fill="#fdf2ef"/><circle cx="653.4" cy="320.5" r="5.05" fill="#f4f4ff"/><circle cx="653.4" cy="332.1" r="5.05" fill="#d8d8ff"/><circle cx="653.4" cy="347.5" r="5.05" fill="#f4f4ff"/><circle cx="653.4" cy="359.1" r="5.05" fill="#f4f4ff"/><circle cx="653.4" cy="370.7" r="5.05" fill="#fdf2ef"/><circle cx="690" cy="308.9" r="5.05" fill="#f4f4ff"/><circle cx="690" cy="320.5" r="5.05" fill="#f4f4ff"/><circle cx="690" cy="332.1" r="5.05" fill="#f4f4ff"/><circle cx="690" cy="347.5" r="5.05" fill="#f4f4ff"/><circle cx="690" cy="359.1" r="5.05" fill="#f4f4ff"/><circle cx="690" cy="370.7" r="5.05" fill="#f4f4ff"/><circle cx="713.1" cy="416.6" r="5.05" fill="#e0e0ff"/><circle cx="178.2" cy="370.7" r="5.05" fill="#f8f8ff"/><circle cx="178.2" cy="386.1" r="5.05" fill="#d8d8ff"/><circle cx="178.2" cy="401.5" r="5.05" fill="#dcdcff"/><circle cx="207.5" cy="355.2" r="5.05" fill="#d8d8ff"/><circle cx="207.5" cy="370.7" r="5.05" fill="#f4f4ff"/><circle cx="207.5" cy="386.1" r="5.05" fill="#d8d8ff"/><circle cx="240.4" cy="401.5" r="5.05" fill="#f8d0c8"/><circle cx="240.4" cy="386.1" r="5.05" fill="#f8f8ff"/><circle cx="240.4" cy="370.7" r="5.05" fill="#f8f8ff"/><circle cx="240.4" cy="355.2" r="5.05" fill="#d8d8ff"/><circle cx="240.4" cy="334" r="5.05" fill="#f4f4ff"/><circle cx="240.4" cy="345.6" r="5.05" fill="#f4f4ff"/><circle cx="263.5" cy="281.9" r="5.05" fill="#fdf1ec"/><circle cx="263.5" cy="293.5" r="5.05" fill="#d8d8ff"/><circle cx="263.5" cy="308.9" r="5.05" fill="#fdf2ef"/><circle cx="263.5" cy="324.4" r="5.05" fill="#f8f8ff"/><circle cx="263.5" cy="334" r="5.05" fill="#f4f4ff"/><circle cx="263.5" cy="345.6" r="5.05" fill="#d8d8ff"/><circle cx="270.3" cy="386.1" r="5.05" fill="#fdf2ef"/><circle cx="275.7" cy="359.1" r="5.05" fill="#d8d8ff"/><circle cx="275.7" cy="370.7" r="5.05" fill="#d8d8ff"/><circle cx="828.9" cy="262.6" r="5.05" fill="#f8f8ff"/><circle cx="828.9" cy="281.9" r="5.05" fill="#f8f8ff"/><circle cx="828.9" cy="293.5" r="5.05" fill="#fcfcff"/><circle cx="828.9" cy="308.9" r="5.05" fill="#fcfcff"/><circle cx="828.9" cy="324.4" r="5.05" fill="#f8f8ff"/><circle cx="865.4" cy="258.8" r="5.05" fill="#c0c0ff"/><circle cx="865.4" cy="293.5" r="5.05" fill="#b8b8ff"/><circle cx="865.4" cy="324.4" r="5.05" fill="#d0d0ff"/><circle cx="897.1" cy="363" r="5.05" fill="#fcfcff"/><circle cx="897.1" cy="378.4" r="5.05" fill="#fcfcff"/><circle cx="941" cy="363" r="5.05" fill="#d4d4ff"/><circle cx="848.4" cy="370.7" r="5.05" fill="#f0f0ff"/><circle cx="843.5" cy="393.8" r="5.05" fill="#f8f8ff"/><circle cx="838.6" cy="413.1" r="5.05" fill="#d0d0ff"/><circle cx="117.5" cy="487.8" r="5.05" fill="#9090ff"/><circle cx="287.7" cy="436.1" r="5.05" fill="#f4f4ff"/><circle cx="390.3" cy="520.5" r="5.05" fill="#a0a0ff"/><circle cx="401.2" cy="193.1" r="5.05" fill="#a8a8ff"/><circle cx="396.4" cy="215.5" r="5.05" fill="#a8a8ff"/><circle cx="471.2" cy="127.5" r="5.05" fill="#8888ff"/><circle cx="488.2" cy="119.9" r="5.05" fill="#7070ff"/><circle cx="502.6" cy="127.9" r="5.05" fill="#a0a0ff"/><circle cx="480.6" cy="142.8" r="5.05" fill="#8888ff"/><circle cx="502" cy="140.4" r="5.05" fill="#a8a8ff"/><circle cx="529.5" cy="132.3" r="5.05" fill="#b8b8ff"/><circle cx="549.5" cy="124.3" r="5.05" fill="#f8f8ff"/><circle cx="561" cy="122.7" r="5.05" fill="#3030ff"/><circle cx="556" cy="115.9" r="5.05" fill="#f8c0b8"/><circle cx="574.2" cy="123.9" r="5.05" fill="#5050ff"/><circle cx="568.2" cy="146.4" r="5.05" fill="#a8a8ff"/><circle cx="602.3" cy="162.4" r="5.05" fill="#6060ff"/><circle cx="614.7" cy="162.4" r="5.05" fill="#f8c0b8"/><circle cx="603.3" cy="175.4" r="5.05" fill="#f8f8ff"/><circle cx="586.4" cy="182.5" r="5.05" fill="#c0c0ff"/><circle cx="604.9" cy="193.1" r="5.05" fill="#a8a8ff"/><circle cx="526.3" cy="245.9" r="5.05" fill="#f4f4ff"/><circle cx="546.4" cy="248.9" r="5.05" fill="#c0c0ff"/><circle cx="536.5" cy="251.5" r="5.05" fill="#f8f8ff"/><circle cx="537.1" cy="274.2" r="5.05" fill="#f8f8ff"/><circle cx="550.2" cy="272.2" r="5.05" fill="#d0d0ff"/><circle cx="749.8" cy="192.3" r="5.05" fill="#f8f4fc"/><circle cx="759.4" cy="181.3" r="5.05" fill="#a8a8ff"/><circle cx="752.8" cy="183.5" r="5.05" fill="#6868ff"/><circle cx="744.4" cy="187.3" r="5.05" fill="#ffece8"/><circle cx="753.2" cy="173.5" r="5.05" fill="#ec4848"/><circle cx="744.4" cy="206.2" r="5.05" fill="#fdf2ef"/><circle cx="732.2" cy="211.2" r="5.05" fill="#fcd8d4"/><circle cx="739.2" cy="216.8" r="5.05" fill="#7878ff"/><circle cx="751.8" cy="216.8" r="5.05" fill="#d0d0ff"/><circle cx="705.5" cy="227.6" r="5.05" fill="#fcdcd8"/><circle cx="709.5" cy="228.2" r="5.05" fill="#fcdcd8"/><circle cx="714.3" cy="229.8" r="5.05" fill="#fcdcd8"/><circle cx="729.8" cy="227.8" r="5.05" fill="#fdf2ef"/><circle cx="747.2" cy="233.8" r="5.05" fill="#d0d0ff"/><circle cx="768.3" cy="233.2" r="5.05" fill="#d4d4ff"/><circle cx="692.9" cy="239.2" r="5.05" fill="#c0c0ff"/><circle cx="702.9" cy="239.8" r="5.05" fill="#d4d4ff"/><circle cx="712.5" cy="239.8" r="5.05" fill="#f8f8fc"/><circle cx="755.2" cy="247.7" r="5.05" fill="#d8d8ff"/><circle cx="692.5" cy="254.1" r="5.05" fill="#dcdcff"/><circle cx="763.7" cy="258.7" r="5.05" fill="#d8d8ff"/><circle cx="778.7" cy="256.7" r="5.05" fill="#dcdcff"/><circle cx="714.5" cy="263.7" r="5.05" fill="#d8d8ff"/><circle cx="722.8" cy="274.1" r="5.05" fill="#d4d4ff"/><circle cx="739.2" cy="282" r="5.05" fill="#d8d8ff"/><circle cx="756.6" cy="281.2" r="5.05" fill="#f8f8ff"/><circle cx="766.6" cy="276.8" r="5.05" fill="#fcfcfc"/><circle cx="791.7" cy="284" r="5.05" fill="#dcdcff"/><circle cx="797.3" cy="282" r="5.05" fill="#e0e0ff"/><circle cx="809" cy="284" r="5.05" fill="#d8d8ff"/><use href="#coast"/></g><path d="M190.4 88.5V590.2M336.6 88.5V590.2M482.8 88.5V590.2M629.1 88.5V590.2M775.3 88.5V590.2M921.5 88.5V590.2M92.8 108.3H970.5M92.8 224H970.5M92.8 339.8H970.5M92.8 455.6H970.5M92.8 571.3H970.5M92.8 166.2H970.5M92.8 281.9H970.5M92.8 397.7H970.5M92.8 513.4H970.5" stroke="#000" stroke-opacity=".62" stroke-width="1.45" fill="none"/><path d="M190.4 76.3V88.5M190.4 590.2V602.6M336.6 76.3V88.5M336.6 590.2V602.6M482.8 76.3V88.5M482.8 590.2V602.6M629.1 76.3V88.5M629.1 590.2V602.6M775.3 76.3V88.5M775.3 590.2V602.6M921.5 76.3V88.5M921.5 590.2V602.6M80.4 108.3H92.8M970.5 108.3H982.9M80.4 224H92.8M970.5 224H982.9M80.4 339.8H92.8M970.5 339.8H982.9M80.4 455.6H92.8M970.5 455.6H982.9M80.4 571.3H92.8M970.5 571.3H982.9" stroke="#484848" stroke-width="1.7" fill="none"/><rect x="92.8" y="88.5" width="877.6" height="501.7" fill="none" stroke="#000" stroke-width="2.6" stroke-linejoin="round"/><text class="tk" transform="translate(167.4 640.3) scale(1.0 1.045)">60</text><text class="dg" x="202.8" y="632">°</text><text class="tk" transform="translate(304.3 640.3) scale(1.0 1.045)">120</text><text class="dg" x="357.6" y="632">°</text><text class="tk" transform="translate(441.6 640.3) scale(1.0 1.045)">−180</text><text class="dg" x="513.6" y="632">°</text><text class="tk" transform="translate(587.8 640.3) scale(1.0 1.045)">−120</text><text class="dg" x="659.8" y="632">°</text><text class="tk" transform="translate(742.9 640.3) scale(1.0 1.045)">−60</text><text class="dg" x="797.1" y="632">°</text><text class="tk" transform="translate(907.6 640.3) scale(1.0 1.045)">0</text><text class="dg" x="925.2" y="632">°</text><text class="tk" transform="translate(995.8 121.6) scale(0.965 1.045)">60</text><text class="dg" x="1030.1" y="113.3">°</text><text class="tk" transform="translate(996.2 237.3) scale(0.965 1.045)">30</text><text class="dg" x="1030.5" y="229">°</text><text class="tk" transform="translate(996.2 353.1) scale(0.965 1.045)">0</text><text class="dg" x="1013.3" y="344.8">°</text><text class="tk" transform="translate(995.9 468.9) scale(0.965 1.045)">−30</text><text class="dg" x="1048.2" y="460.6">°</text><text class="tk" transform="translate(995.9 584.6) scale(0.965 1.045)">−60</text><text class="dg" x="1048.2" y="576.3">°</text></g>
<rect x="385" y="682.9" width="1228" height="43.4" fill="url(#cb)"/><path d="M385 682.9L362.8 704.5L385 726.2Z" fill="#1814ff" stroke="#000" stroke-width="3.2" stroke-linejoin="miter"/><path d="M1613 682.9L1634.3 704.5L1613 726.2Z" fill="#dd1414" stroke="#000" stroke-width="3.2" stroke-linejoin="miter"/><rect x="385" y="682.9" width="1228" height="43.4" fill="none" stroke="#000" stroke-width="2.9"/><text class="cl" transform="translate(348.2 793.5) scale(1 1.085)">−25</text><text class="cl" transform="translate(471 793.5) scale(1 1.085)">−20</text><text class="cl" transform="translate(593.9 793.5) scale(1 1.085)">−15</text><text class="cl" transform="translate(716.7 793.5) scale(1 1.085)">−10</text><text class="cl" transform="translate(851.5 793.5) scale(1 1.085)">−5</text><text class="cl" transform="translate(987.1 793.5) scale(1 1.085)">0</text><text class="cl" transform="translate(1110 793.5) scale(1 1.085)">5</text><text class="cl" transform="translate(1220 793.5) scale(1 1.085)">10</text><text class="cl" transform="translate(1343 793.5) scale(1 1.085)">15</text><text class="cl" transform="translate(1466.3 793.5) scale(1 1.085)">20</text><text class="cl" transform="translate(1589.2 793.5) scale(1 1.085)">25</text><path d="M384.6 726.2V744.4M507.5 726.2V744.4M630.3 726.2V744.4M753.1 726.2V744.4M876 726.2V744.4M998.9 726.2V744.4M1121.7 726.2V744.4M1244.5 726.2V744.4M1367.4 726.2V744.4M1490.2 726.2V744.4M1613.1 726.2V744.4" stroke="#000" stroke-opacity=".85" stroke-width="1.8" fill="none"/><text class="cl" transform="translate(1680.4 795.1) scale(1 1.05)">W m</text><text class="cl" style="font-size:25.5px" transform="translate(1768.8 780.4) scale(1 1.05)">-2</text>
</svg>
</body></html>
